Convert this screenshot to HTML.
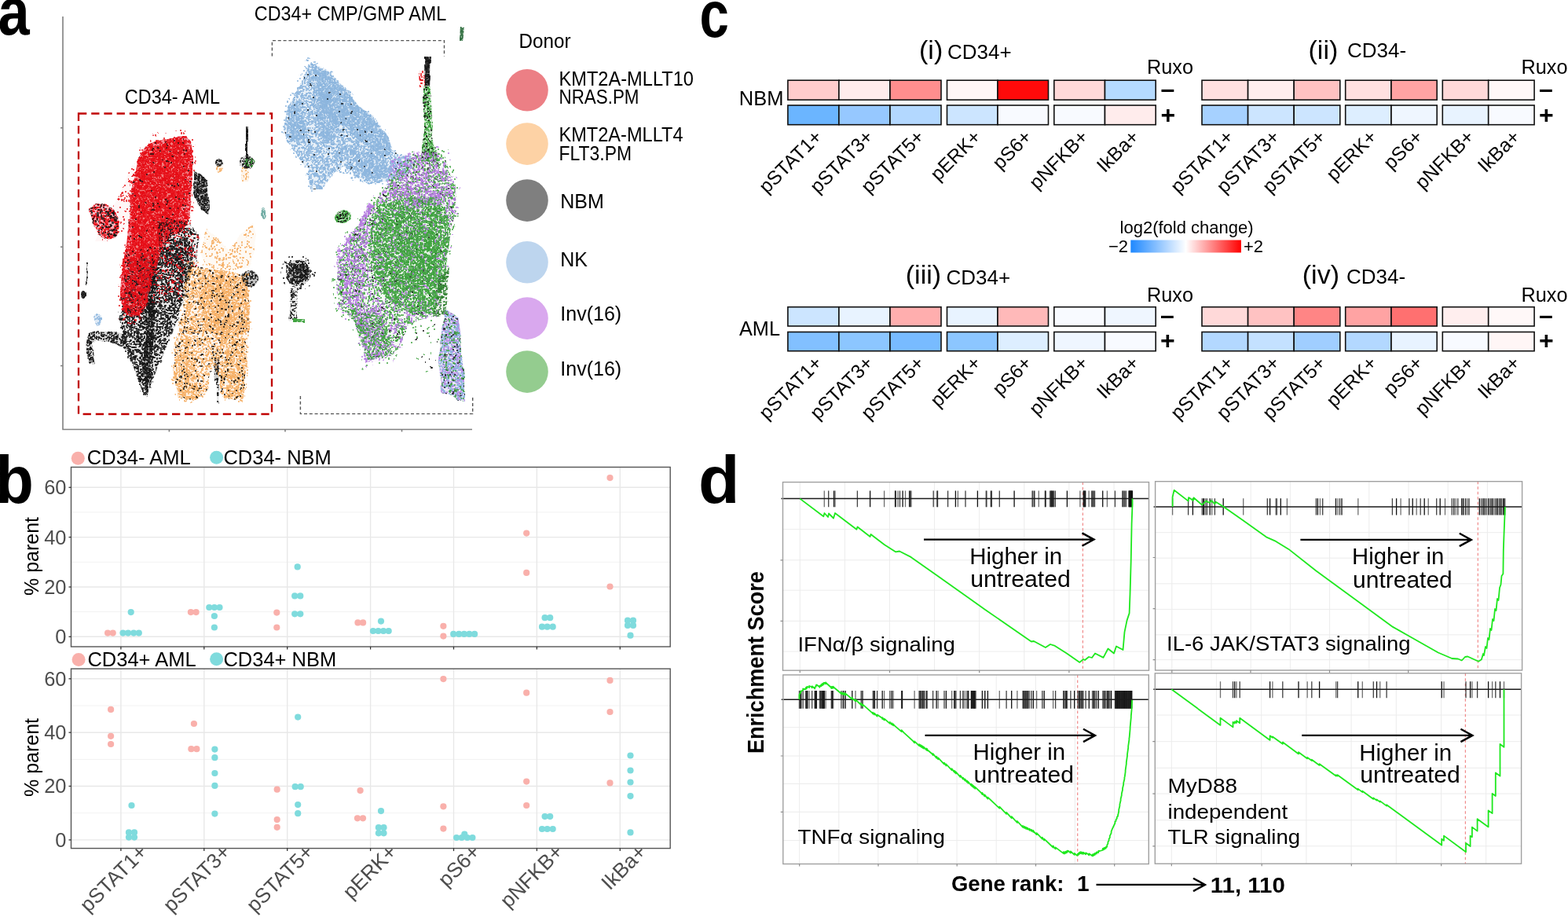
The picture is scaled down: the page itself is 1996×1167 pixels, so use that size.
<!DOCTYPE html><html><head><meta charset="utf-8"><title>Figure</title><style>html,body{margin:0;padding:0;background:#fff;width:1996px;height:1167px;overflow:hidden}svg{display:block}</style></head><body><svg width="1996" height="1167" viewBox="0 0 1996 1167" font-family='"Liberation Sans", Arial, sans-serif'>
<rect width="1996" height="1167" fill="#fff"/>
<defs>
<filter id="rough" x="60" y="20" width="560" height="520" filterUnits="userSpaceOnUse"><feTurbulence type="fractalNoise" baseFrequency="0.035" numOctaves="2" seed="4"/><feDisplacementMap in="SourceGraphic" scale="7" xChannelSelector="R" yChannelSelector="G"/></filter>
<pattern id="qm0" width="72" height="72" patternUnits="userSpaceOnUse"><path d="M33 36h0M0 18h0M53 68h0M47 40h0M16 65h0M6 58h0M71 50h0M50 51h0M50 13h0M61 51h0M7 24h0M8 26h0M56 20h0M14 43h0M6 13h0M0 19h0M68 12h0M46 3h0M9 26h0M48 19h0M32 44h0M46 60h0M15 14h0M62 59h0M61 61h0" stroke="#fff" stroke-width="2" stroke-linecap="round"/></pattern>
<mask id="m0" maskUnits="userSpaceOnUse" x="-100" y="-100" width="900" height="760"><rect x="-100" y="-100" width="900" height="760" fill="url(#qm0)"/></mask>
<pattern id="qm1" width="72" height="72" patternUnits="userSpaceOnUse"><path d="M39 10h0M18 13h0M43 33h0M61 20h0M66 2h0M26 67h0M46 18h0M69 3h0M67 38h0M11 33h0M66 46h0M21 45h0M28 68h0M69 64h0M42 28h0M24 30h0M51 29h0M25 66h0M63 45h0M3 3h0M35 60h0M33 24h0M44 57h0M44 46h0M10 28h0M13 29h0M60 25h0M43 26h0M61 0h0M61 44h0M10 15h0M49 25h0M61 22h0M55 42h0M11 50h0M59 51h0M10 20h0M21 16h0M3 19h0M59 18h0M60 44h0M19 70h0M70 16h0M2 1h0M13 67h0M17 55h0M24 27h0M3 32h0M27 37h0M64 30h0M41 33h0" stroke="#fff" stroke-width="2" stroke-linecap="round"/></pattern>
<mask id="m1" maskUnits="userSpaceOnUse" x="-100" y="-100" width="900" height="760"><rect x="-100" y="-100" width="900" height="760" fill="url(#qm1)"/></mask>
<pattern id="qm2" width="72" height="72" patternUnits="userSpaceOnUse"><path d="M69 53h0M16 7h0M45 58h0M66 53h0M64 16h0M68 19h0M67 65h0M2 56h0M23 0h0M19 22h0M18 60h0M15 71h0M7 41h0M66 67h0M71 61h0M13 71h0M7 31h0M24 35h0M5 12h0M64 57h0M71 3h0M8 56h0M41 64h0M65 25h0M35 57h0M65 68h0M61 64h0M31 66h0M33 71h0M25 57h0M17 53h0M15 50h0M56 40h0M9 30h0M54 9h0M27 38h0M15 19h0M46 18h0M32 17h0M59 28h0M12 50h0M62 20h0M28 20h0M55 65h0M51 43h0M53 25h0M45 40h0M11 46h0M2 43h0M70 58h0M56 2h0M49 42h0M66 37h0M65 8h0M14 29h0M13 10h0M33 34h0M5 23h0M34 16h0M54 33h0M51 19h0M68 65h0M63 41h0M11 35h0M7 23h0M54 9h0M34 2h0M11 33h0M10 28h0M8 33h0M15 58h0M1 43h0M70 53h0M34 16h0M5 67h0M30 14h0M20 33h0M6 23h0M25 39h0M39 67h0M26 37h0M57 64h0M22 34h0M44 2h0M32 4h0M1 2h0M64 70h0M24 65h0M60 31h0M57 13h0M55 63h0M69 50h0M64 39h0M27 29h0M43 25h0M17 51h0M44 6h0M16 1h0M9 32h0M55 20h0M7 10h0M48 64h0M36 31h0" stroke="#fff" stroke-width="2" stroke-linecap="round"/></pattern>
<mask id="m2" maskUnits="userSpaceOnUse" x="-100" y="-100" width="900" height="760"><rect x="-100" y="-100" width="900" height="760" fill="url(#qm2)"/></mask>
<pattern id="qm3" width="72" height="72" patternUnits="userSpaceOnUse"><path d="M37 5h0M58 23h0M20 34h0M57 0h0M33 46h0M42 70h0M41 31h0M4 39h0M27 45h0M23 0h0M42 48h0M10 60h0M35 64h0M25 31h0M64 0h0M11 33h0M11 18h0M51 5h0M50 2h0M38 38h0M29 10h0M67 19h0M49 41h0M63 19h0M36 18h0M5 65h0M54 64h0M17 67h0M64 2h0M29 10h0M3 5h0M17 46h0M13 48h0M57 71h0M6 2h0M68 31h0M62 33h0M0 58h0M8 64h0M68 11h0M67 8h0M60 32h0M9 33h0M30 26h0M29 58h0M63 48h0M9 61h0M36 5h0M25 9h0M18 42h0M32 38h0M17 1h0M61 7h0M62 34h0M12 27h0M62 37h0M66 36h0M59 59h0M59 15h0M70 25h0M39 10h0M60 2h0M37 58h0M9 64h0M57 34h0M49 26h0M26 9h0M11 18h0M67 33h0M46 16h0M65 35h0M14 46h0M29 63h0M62 50h0M3 20h0M0 62h0M57 51h0M38 18h0M53 44h0M48 40h0M15 42h0M0 41h0M43 50h0M15 25h0M1 37h0M32 47h0M8 50h0M49 9h0M46 54h0M35 6h0M35 13h0M6 36h0M19 31h0M34 55h0M65 40h0M24 47h0M54 3h0M51 70h0M70 26h0M10 6h0M52 57h0M17 36h0M62 6h0M70 16h0M21 60h0M53 43h0M36 38h0M32 33h0M51 30h0M38 61h0M71 50h0M15 21h0M20 9h0M26 64h0M63 70h0M28 57h0M42 57h0M54 17h0M70 24h0M31 11h0M22 43h0M71 11h0M40 30h0M47 33h0M25 2h0M52 49h0M52 67h0M26 48h0M34 43h0M7 63h0M35 46h0M16 64h0M67 27h0M11 34h0M31 49h0M51 57h0M55 39h0M2 16h0M4 54h0M60 62h0M0 9h0M50 67h0M59 57h0M31 13h0M28 19h0M19 66h0M13 58h0M10 70h0M5 0h0M16 29h0M4 38h0M16 32h0M67 55h0M14 12h0M9 38h0" stroke="#fff" stroke-width="2" stroke-linecap="round"/></pattern>
<mask id="m3" maskUnits="userSpaceOnUse" x="-100" y="-100" width="900" height="760"><rect x="-100" y="-100" width="900" height="760" fill="url(#qm3)"/></mask>
<pattern id="qm4" width="72" height="72" patternUnits="userSpaceOnUse"><path d="M67 24h0M49 33h0M28 0h0M1 68h0M38 58h0M35 40h0M31 60h0M67 30h0M70 31h0M3 52h0M39 7h0M2 24h0M63 53h0M10 32h0M29 54h0M47 29h0M63 4h0M43 53h0M46 50h0M25 0h0M37 64h0M8 26h0M63 25h0M39 24h0M29 59h0M28 33h0M37 13h0M63 23h0M28 62h0M53 7h0M18 50h0M6 27h0M3 18h0M53 6h0M7 23h0M50 57h0M40 14h0M10 21h0M42 24h0M23 67h0M59 4h0M39 48h0M47 42h0M56 21h0M13 0h0M10 35h0M10 44h0M53 15h0M71 26h0M48 45h0M39 55h0M11 6h0M60 25h0M47 69h0M57 24h0M41 46h0M60 3h0M52 31h0M51 5h0M48 4h0M59 8h0M7 32h0M24 8h0M43 46h0M34 42h0M5 33h0M40 35h0M38 0h0M8 3h0M29 13h0M60 59h0M49 32h0M55 63h0M16 63h0M23 1h0M38 19h0M30 41h0M40 58h0M46 10h0M65 25h0M50 20h0M31 52h0M8 4h0M61 70h0M69 41h0M20 54h0M13 9h0M33 10h0M26 12h0M53 63h0M57 22h0M29 17h0M53 58h0M30 68h0M15 37h0M37 35h0M34 47h0M32 33h0M25 56h0M31 23h0M31 30h0M19 36h0M24 41h0M8 50h0M32 31h0M64 67h0M29 12h0M59 4h0M13 0h0M60 29h0M57 47h0M5 37h0M29 15h0M6 24h0M24 9h0M47 65h0M22 57h0M33 0h0M13 44h0M27 4h0M47 43h0M18 5h0M26 32h0M4 26h0M1 41h0M52 47h0M23 39h0M9 26h0M4 63h0M70 61h0M8 52h0M12 50h0M70 19h0M68 11h0M20 50h0M34 52h0M36 39h0M53 6h0M39 45h0M53 53h0M2 46h0M25 50h0M51 26h0M0 55h0M20 54h0M14 11h0M51 46h0M58 20h0M16 1h0M6 70h0M18 50h0M11 47h0M64 21h0M18 44h0M36 20h0M66 21h0M8 13h0M49 62h0M25 38h0M16 5h0M61 40h0M6 49h0M11 20h0M28 51h0M25 60h0M23 27h0M5 51h0M66 20h0M49 45h0M15 19h0M31 24h0M5 71h0M4 41h0M15 49h0M58 70h0M39 53h0M39 31h0M54 49h0M47 57h0M64 56h0M22 2h0M0 62h0M59 30h0M57 58h0M22 60h0M51 13h0M8 16h0M45 55h0M46 11h0M56 64h0M65 5h0M5 16h0M10 40h0M65 10h0M6 64h0M48 17h0M3 8h0M14 24h0M16 62h0M36 21h0M28 8h0M44 32h0M20 41h0M35 58h0M18 32h0M64 61h0M26 33h0M64 30h0M40 47h0M4 25h0M23 51h0M20 35h0M41 48h0M21 33h0M14 67h0M6 46h0M57 71h0M66 13h0M32 68h0M50 47h0M33 48h0M47 18h0M46 42h0M10 56h0M29 22h0M6 37h0M66 32h0M39 40h0M0 4h0M28 19h0M37 55h0M53 65h0M46 6h0M16 62h0M29 5h0M2 6h0M0 45h0M38 13h0M66 45h0M68 28h0M52 38h0M17 26h0M46 60h0M20 17h0M1 31h0M19 57h0M12 8h0M18 34h0M51 33h0M1 7h0M71 44h0M56 66h0M63 31h0M21 0h0M5 7h0M68 3h0M51 23h0M30 20h0M7 13h0" stroke="#fff" stroke-width="2" stroke-linecap="round"/></pattern>
<mask id="m4" maskUnits="userSpaceOnUse" x="-100" y="-100" width="900" height="760"><rect x="-100" y="-100" width="900" height="760" fill="url(#qm4)"/></mask>
<pattern id="qm5" width="56" height="56" patternUnits="userSpaceOnUse"><path d="M0 39h0M35 42h0M12 9h0M26 12h0M33 38h0M41 32h0M41 41h0M26 52h0M39 11h0M32 19h0M4 19h0M40 3h0M46 50h0M30 45h0M34 0h0M24 54h0M27 47h0M29 5h0M47 41h0M28 11h0M14 6h0M16 14h0M41 2h0M7 21h0M47 44h0M54 16h0M45 3h0M17 40h0M35 43h0M27 43h0M50 33h0M16 18h0M41 13h0M5 32h0M0 10h0M16 15h0M53 47h0M12 10h0M47 20h0M12 24h0M21 38h0M15 24h0M54 40h0M44 42h0M53 34h0M30 30h0M53 33h0M44 0h0M54 1h0M27 46h0M14 36h0M19 50h0M13 25h0M39 37h0M4 36h0M10 9h0M2 1h0M7 6h0M39 10h0M22 9h0M44 1h0M1 2h0M8 44h0M41 40h0M2 44h0M4 47h0M2 4h0M54 37h0M48 23h0M12 52h0M52 34h0M42 4h0M55 48h0M45 24h0M6 15h0M13 13h0M7 2h0M2 54h0M51 48h0M40 5h0M52 48h0M40 40h0M18 30h0M6 8h0M6 50h0M48 41h0M13 18h0M20 21h0M27 16h0M1 22h0M16 18h0M3 45h0M48 23h0M20 49h0M38 32h0M30 54h0M18 39h0M47 1h0M50 26h0M1 27h0M33 49h0M6 22h0M30 45h0M3 34h0M36 13h0M45 55h0M52 5h0M36 52h0M18 10h0M27 0h0M33 12h0M18 48h0M48 3h0M0 22h0M31 6h0M31 44h0M50 52h0M11 31h0M37 22h0M53 32h0M16 36h0M10 18h0M52 13h0M44 14h0M31 10h0M7 40h0M49 5h0M31 50h0M44 35h0M50 6h0M40 20h0M22 6h0M25 25h0M47 5h0M27 41h0M1 23h0M13 19h0M16 27h0M34 32h0M10 24h0M40 14h0M29 8h0M34 38h0M48 44h0M48 38h0M41 2h0M22 37h0M20 33h0M9 55h0M53 28h0M42 35h0M47 20h0M10 29h0M28 44h0M49 16h0M37 14h0M8 21h0M29 41h0M44 15h0M32 12h0M17 19h0M48 45h0M52 53h0M39 9h0M46 9h0M15 46h0M20 38h0M33 22h0M10 15h0M20 12h0M16 46h0M6 10h0M42 6h0M12 24h0M9 9h0M50 19h0M46 19h0M27 17h0M12 6h0M40 6h0M17 13h0M24 29h0M2 0h0M25 54h0M50 27h0M44 14h0M32 40h0M18 29h0M1 9h0M16 38h0M47 25h0M0 47h0M15 54h0M27 44h0M36 37h0M47 41h0M26 54h0M14 42h0M46 41h0M49 41h0M44 37h0M54 14h0M43 11h0M41 7h0M29 27h0M20 16h0M40 44h0M6 26h0M15 50h0M25 45h0M45 40h0M10 16h0M54 27h0M30 29h0M1 39h0M54 26h0M33 43h0M42 55h0M11 41h0M20 49h0M0 24h0M53 31h0M6 2h0M16 34h0M13 10h0M45 50h0M12 33h0M22 6h0M54 36h0M29 34h0M13 45h0M30 32h0M1 40h0M50 53h0M23 33h0M21 26h0M47 29h0M13 43h0M11 25h0M32 48h0M7 46h0M39 22h0M40 3h0M16 17h0M24 25h0M3 0h0M4 26h0M26 40h0M44 43h0M22 37h0" stroke="#fff" stroke-width="2" stroke-linecap="round"/></pattern>
<mask id="m5" maskUnits="userSpaceOnUse" x="-100" y="-100" width="900" height="760"><rect x="-100" y="-100" width="900" height="760" fill="url(#qm5)"/></mask>
<pattern id="qm6" width="56" height="56" patternUnits="userSpaceOnUse"><path d="M16 6h0M14 19h0M47 25h0M33 14h0M51 25h0M29 13h0M10 8h0M49 4h0M51 51h0M40 12h0M30 41h0M35 46h0M14 52h0M9 22h0M42 40h0M53 52h0M50 52h0M26 29h0M18 48h0M35 41h0M8 49h0M53 30h0M22 50h0M54 14h0M17 45h0M24 43h0M16 27h0M43 11h0M30 0h0M51 46h0M51 17h0M22 15h0M41 19h0M20 30h0M31 27h0M39 40h0M5 42h0M23 9h0M19 54h0M24 3h0M5 52h0M36 20h0M50 8h0M33 53h0M22 40h0M37 0h0M42 0h0M13 4h0M41 18h0M16 38h0M6 37h0M9 54h0M14 11h0M49 28h0M22 50h0M9 13h0M25 50h0M34 10h0M39 44h0M38 50h0M5 42h0M35 50h0M40 53h0M19 12h0M31 44h0M13 33h0M5 47h0M53 28h0M42 7h0M35 7h0M16 26h0M14 52h0M8 30h0M31 35h0M3 30h0M29 9h0M44 31h0M15 31h0M10 34h0M38 55h0M47 0h0M10 53h0M20 29h0M44 36h0M31 42h0M18 53h0M29 23h0M27 26h0M43 4h0M11 40h0M23 40h0M41 1h0M1 39h0M2 43h0M47 21h0M51 6h0M32 30h0M31 48h0M9 2h0M13 45h0M26 40h0M8 21h0M6 55h0M42 23h0M21 30h0M49 33h0M35 49h0M13 18h0M27 21h0M27 16h0M35 3h0M52 18h0M18 22h0M52 31h0M25 21h0M32 17h0M55 32h0M22 13h0M41 31h0M50 7h0M21 12h0M20 45h0M19 8h0M37 40h0M5 50h0M2 25h0M46 35h0M25 34h0M36 3h0M25 19h0M6 0h0M2 12h0M52 30h0M38 49h0M42 3h0M50 32h0M34 39h0M24 39h0M9 40h0M43 44h0M44 38h0M43 5h0M13 2h0M42 40h0M29 40h0M48 11h0M6 42h0M11 55h0M2 26h0M49 6h0M41 0h0M23 55h0M52 8h0M50 19h0M35 45h0M16 55h0M19 11h0M26 2h0M20 1h0M27 36h0M41 37h0M3 31h0M36 33h0M2 52h0M7 49h0M51 26h0M36 44h0M25 28h0M4 0h0M43 24h0M38 37h0M42 9h0M30 49h0M26 35h0M6 5h0M41 30h0M13 9h0M40 0h0M27 0h0M0 43h0M42 7h0M54 5h0M13 55h0M7 8h0M30 1h0M17 46h0M36 15h0M28 46h0M47 11h0M3 23h0M49 47h0M45 44h0M54 9h0M46 48h0M5 18h0M40 35h0M45 31h0M29 42h0M16 3h0M45 2h0M0 3h0M0 41h0M43 52h0M39 5h0M24 19h0M19 46h0M38 10h0M55 53h0M31 38h0M3 20h0M23 36h0M46 28h0M30 43h0M10 9h0M51 7h0M23 41h0M10 40h0M51 26h0M30 24h0M49 50h0M28 17h0M50 48h0M36 21h0M18 17h0M3 39h0M41 45h0M51 52h0M38 21h0M55 38h0M46 0h0M53 9h0M38 53h0M19 37h0M27 15h0M24 24h0M43 24h0M38 49h0M14 51h0M28 18h0M44 0h0M20 16h0M17 27h0M10 37h0M52 48h0M50 2h0M18 53h0M9 51h0M55 36h0M9 17h0M54 51h0M51 35h0M43 49h0M31 22h0M34 5h0M34 35h0M31 51h0M24 12h0M50 48h0M46 14h0M19 38h0M3 43h0M25 29h0M45 13h0M16 37h0M48 0h0M50 24h0M29 34h0M5 34h0M51 22h0M49 4h0M14 25h0M37 33h0M16 53h0M33 20h0M30 32h0M37 12h0M12 13h0M12 5h0M11 51h0M44 18h0M23 36h0M36 22h0M25 49h0M33 54h0M9 15h0M2 31h0M23 55h0M6 23h0M40 29h0M50 5h0M9 20h0M38 1h0M22 17h0M33 38h0M1 6h0M2 13h0M55 55h0M36 31h0M37 36h0M13 16h0M49 17h0M27 6h0M28 49h0M37 52h0M38 8h0M16 53h0M2 21h0M12 11h0M24 5h0M1 3h0M2 35h0M23 55h0M45 29h0M31 54h0M4 55h0M38 40h0M25 7h0M45 5h0M16 20h0M36 14h0M41 5h0M42 32h0M25 11h0M28 54h0M10 23h0M15 46h0M14 11h0M2 16h0M22 3h0M35 1h0M53 3h0M16 50h0M32 45h0M47 41h0M48 30h0M3 6h0M9 20h0M48 0h0M12 43h0M47 19h0M37 37h0M28 48h0M41 6h0M30 20h0M23 16h0M24 7h0M23 30h0M24 10h0M28 15h0M51 9h0M43 0h0M29 45h0M12 51h0M2 10h0M53 14h0M4 39h0M55 23h0M47 8h0M49 28h0M6 24h0M53 1h0M40 4h0M28 21h0M20 52h0M14 30h0M7 40h0M23 9h0M21 14h0M47 3h0M11 45h0M28 35h0M9 28h0M55 9h0M17 26h0M26 15h0M9 1h0" stroke="#fff" stroke-width="2" stroke-linecap="round"/></pattern>
<mask id="m6" maskUnits="userSpaceOnUse" x="-100" y="-100" width="900" height="760"><rect x="-100" y="-100" width="900" height="760" fill="url(#qm6)"/></mask>
<pattern id="qm7" width="44" height="44" patternUnits="userSpaceOnUse"><path d="M17 36h0M18 21h0M10 16h0M31 6h0M20 29h0M30 7h0M9 32h0M3 40h0M42 13h0M35 30h0M18 7h0M16 12h0M23 27h0M16 15h0M15 6h0M24 18h0M26 10h0M3 18h0M9 40h0M1 28h0M32 21h0M32 8h0M28 0h0M33 18h0M11 23h0M27 2h0M26 13h0M17 36h0M11 8h0M11 33h0M14 11h0M12 38h0M5 5h0M38 31h0M17 11h0M13 8h0M39 42h0M40 12h0M37 19h0M12 0h0M4 33h0M26 3h0M33 22h0M21 18h0M40 31h0M5 0h0M26 30h0M8 42h0M17 15h0M11 36h0M23 2h0M10 23h0M36 38h0M0 22h0M33 28h0M33 4h0M7 22h0M15 20h0M24 36h0M3 18h0M6 31h0M28 32h0M1 33h0M34 8h0M1 15h0M5 14h0M39 11h0M10 6h0M19 16h0M35 1h0M1 6h0M12 16h0M1 38h0M40 36h0M29 33h0M15 28h0M6 22h0M6 11h0M2 17h0M7 29h0M31 37h0M32 17h0M7 7h0M7 25h0M8 34h0M37 14h0M14 9h0M42 36h0M29 25h0M10 1h0M40 24h0M26 38h0M38 33h0M2 25h0M3 23h0M21 25h0M15 21h0M27 36h0M20 25h0M35 3h0M20 33h0M9 43h0M22 15h0M27 42h0M40 0h0M23 6h0M33 11h0M4 20h0M27 12h0M32 42h0M1 14h0M8 26h0M25 29h0M40 2h0M2 2h0M41 39h0M17 43h0M39 17h0M40 34h0M2 39h0M6 16h0M7 33h0M0 27h0M15 2h0M18 7h0M19 22h0M41 10h0M7 3h0M38 32h0M17 5h0M29 37h0M34 9h0M28 7h0M32 8h0M18 26h0M36 18h0M17 15h0M5 34h0M18 29h0M39 36h0M14 41h0M24 12h0M35 23h0M29 35h0M19 39h0M30 30h0M19 1h0M15 21h0M14 12h0M32 34h0M24 37h0M25 0h0M22 10h0M15 20h0M35 20h0M31 17h0M18 13h0M18 3h0M1 10h0M35 4h0M38 22h0M28 42h0M3 33h0M24 28h0M22 6h0M33 14h0M43 9h0M26 21h0M42 22h0M8 43h0M12 39h0M39 17h0M33 6h0M30 17h0M40 40h0M8 26h0M6 0h0M26 35h0M37 7h0M31 25h0M36 9h0M26 17h0M39 38h0M7 24h0M28 29h0M18 22h0M18 22h0M25 33h0M35 38h0M24 41h0M20 0h0M31 24h0M28 19h0M11 34h0M19 9h0M27 36h0M24 37h0M14 5h0M21 20h0M38 15h0M20 13h0M27 0h0M1 3h0M16 36h0M31 19h0M34 19h0M34 39h0M27 33h0M33 43h0M27 24h0M29 22h0M2 38h0M43 22h0M28 0h0M43 4h0M33 14h0M6 26h0M23 32h0M25 41h0M35 36h0M9 12h0M26 31h0M25 28h0M39 37h0M21 33h0M5 10h0M23 20h0M23 4h0M19 32h0M11 7h0M41 18h0M21 32h0M26 40h0M10 33h0M18 32h0M13 32h0M12 26h0M11 3h0M40 36h0M38 6h0M22 36h0M40 40h0M2 26h0M0 0h0M19 35h0M0 19h0M25 6h0M37 0h0M42 1h0M12 11h0M31 35h0M36 17h0M41 34h0M32 9h0M36 12h0M26 38h0M7 9h0M10 33h0M32 6h0M1 6h0M4 10h0M33 31h0M29 39h0M27 3h0M41 0h0M43 37h0M20 9h0M15 22h0M17 10h0M2 17h0M40 6h0M37 4h0M22 12h0M28 39h0M24 1h0M3 14h0M25 37h0M2 28h0M3 39h0M15 15h0M14 2h0M10 37h0M11 20h0M0 29h0M19 26h0M38 16h0M31 4h0M15 43h0M24 43h0M37 14h0M26 19h0M25 31h0M1 15h0M5 11h0M10 22h0M24 11h0M0 18h0M25 35h0M23 7h0M21 34h0M24 21h0M25 41h0M4 7h0M27 22h0M35 15h0M24 12h0M29 18h0M22 15h0M27 2h0M17 42h0M1 21h0M9 15h0M8 5h0M12 17h0M34 8h0M35 28h0M29 15h0M10 23h0M22 13h0M25 24h0M40 37h0M13 19h0M30 32h0M13 14h0M28 43h0M8 16h0M38 28h0M37 23h0M34 15h0M25 38h0M32 13h0M8 7h0M43 32h0M5 34h0M17 24h0M1 42h0M36 9h0M19 0h0M24 5h0M11 14h0M20 12h0M42 6h0M4 35h0M23 32h0M19 12h0M4 19h0M5 14h0M18 8h0" stroke="#fff" stroke-width="2" stroke-linecap="round"/></pattern>
<mask id="m7" maskUnits="userSpaceOnUse" x="-100" y="-100" width="900" height="760"><rect x="-100" y="-100" width="900" height="760" fill="url(#qm7)"/></mask>
<pattern id="qm8" width="44" height="44" patternUnits="userSpaceOnUse"><path d="M25 18h0M22 25h0M29 40h0M40 8h0M17 11h0M1 23h0M43 42h0M22 26h0M1 42h0M29 15h0M25 22h0M40 6h0M11 18h0M7 17h0M38 14h0M43 2h0M25 2h0M38 10h0M27 12h0M19 9h0M24 2h0M35 19h0M40 40h0M11 36h0M14 36h0M31 33h0M16 27h0M42 43h0M36 22h0M0 7h0M41 18h0M2 37h0M38 3h0M15 43h0M7 2h0M20 13h0M22 5h0M26 25h0M39 14h0M17 33h0M5 22h0M27 28h0M21 32h0M40 40h0M28 32h0M3 43h0M13 27h0M43 32h0M8 31h0M12 2h0M35 16h0M11 34h0M10 40h0M15 34h0M16 15h0M3 10h0M22 22h0M26 5h0M12 40h0M19 8h0M8 43h0M31 42h0M30 15h0M15 0h0M32 28h0M8 41h0M22 19h0M8 9h0M37 36h0M15 21h0M40 7h0M35 27h0M10 43h0M42 9h0M38 29h0M25 13h0M7 18h0M0 23h0M31 13h0M2 3h0M17 19h0M12 7h0M19 28h0M7 10h0M20 28h0M29 36h0M23 18h0M10 35h0M4 2h0M0 29h0M31 5h0M21 36h0M16 6h0M41 31h0M27 31h0M12 34h0M20 0h0M22 5h0M41 18h0M40 39h0M41 16h0M41 15h0M5 8h0M1 1h0M25 9h0M18 23h0M11 40h0M33 43h0M10 6h0M19 39h0M20 24h0M11 41h0M22 20h0M14 23h0M8 35h0M23 16h0M15 3h0M2 6h0M36 40h0M25 3h0M13 31h0M27 31h0M10 19h0M38 37h0M40 5h0M9 14h0M10 8h0M28 40h0M25 5h0M2 28h0M30 12h0M13 23h0M0 2h0M39 32h0M27 9h0M18 4h0M42 3h0M32 26h0M21 4h0M28 0h0M42 11h0M10 24h0M18 0h0M28 36h0M43 22h0M36 12h0M30 5h0M34 20h0M33 29h0M27 34h0M40 9h0M25 38h0M39 5h0M3 43h0M21 38h0M42 19h0M36 36h0M26 23h0M30 42h0M41 8h0M19 21h0M33 40h0M1 12h0M14 43h0M28 5h0M9 42h0M37 23h0M35 37h0M26 23h0M33 15h0M36 28h0M25 16h0M7 14h0M11 12h0M35 7h0M14 16h0M41 6h0M12 33h0M42 16h0M31 14h0M35 29h0M14 34h0M36 7h0M32 37h0M36 5h0M26 43h0M4 28h0M8 32h0M35 32h0M7 40h0M32 6h0M29 43h0M25 34h0M10 12h0M36 30h0M5 8h0M23 39h0M3 25h0M15 3h0M23 2h0M0 38h0M13 29h0M19 7h0M8 27h0M5 39h0M12 36h0M7 22h0M10 23h0M21 43h0M0 16h0M7 15h0M23 32h0M33 22h0M31 2h0M38 22h0M6 22h0M35 20h0M38 7h0M2 43h0M15 16h0M22 12h0M28 1h0M37 28h0M7 1h0M31 7h0M4 16h0M11 9h0M35 18h0M43 42h0M24 9h0M37 16h0M34 17h0M28 0h0M1 21h0M9 31h0M32 30h0M2 2h0M4 11h0M39 41h0M43 38h0M25 30h0M10 28h0M25 14h0M39 33h0M4 23h0M21 33h0M13 19h0M8 37h0M39 2h0M13 10h0M23 29h0M21 36h0M29 24h0M22 20h0M0 21h0M37 30h0M21 14h0M1 15h0M29 38h0M2 40h0M9 42h0M9 17h0M24 17h0M4 32h0M16 22h0M36 36h0M33 37h0M8 2h0M35 6h0M12 27h0M40 36h0M40 6h0M23 18h0M15 9h0M43 4h0M19 21h0M23 32h0M40 15h0M22 35h0M25 21h0M3 21h0M42 20h0M30 32h0M23 15h0M15 22h0M9 8h0M13 0h0M42 29h0M25 28h0M25 36h0M19 10h0M37 4h0M9 19h0M19 16h0M36 35h0M42 21h0M4 12h0M37 5h0M37 11h0M19 37h0M22 29h0M22 27h0M4 31h0M20 11h0M17 16h0M34 1h0M10 40h0M17 15h0M1 13h0M3 25h0M28 12h0M38 18h0M32 41h0M6 12h0M15 3h0M8 38h0M3 5h0M4 36h0M21 8h0M0 12h0M17 34h0M41 0h0M40 20h0M1 13h0M20 20h0M1 41h0M31 25h0M39 43h0M21 11h0M3 26h0M2 5h0M40 39h0M21 31h0M38 25h0M16 29h0M0 1h0M20 36h0M41 20h0M3 26h0M39 21h0M10 5h0M1 9h0M13 9h0M33 5h0M22 23h0M27 22h0M34 43h0M37 35h0M9 42h0M38 36h0M21 14h0M39 16h0M30 2h0M41 19h0M41 35h0M29 35h0M17 23h0M33 33h0M17 8h0M16 0h0M35 30h0M6 41h0M23 9h0M40 14h0M25 5h0M1 39h0M8 7h0M3 34h0M32 13h0M35 11h0M16 38h0M23 9h0M11 10h0M33 1h0M22 15h0M28 31h0M13 40h0M22 24h0M29 13h0M20 1h0M6 42h0M0 4h0M41 25h0M43 22h0M3 14h0M36 24h0M26 24h0M42 40h0M14 1h0M16 1h0M16 27h0M15 14h0M22 13h0M20 27h0M41 17h0M19 31h0M13 36h0M10 30h0M17 8h0M19 18h0M5 21h0M0 31h0M15 10h0M20 43h0M39 38h0M28 13h0M37 3h0M13 23h0M2 28h0M11 27h0M8 19h0M43 1h0M7 9h0M0 8h0M19 9h0M32 22h0M6 10h0M29 43h0M25 5h0M26 21h0M41 42h0M25 21h0M2 37h0M15 12h0M40 0h0M2 8h0M32 38h0M14 36h0M27 6h0M1 3h0M20 4h0M7 7h0M31 8h0M33 27h0M0 11h0M14 43h0M34 9h0M40 34h0M32 7h0M33 22h0M31 4h0M22 13h0M14 4h0M17 11h0M0 16h0M17 4h0M2 12h0M32 3h0M26 35h0M23 17h0M0 20h0M2 41h0M29 34h0M18 35h0M21 26h0M17 25h0M27 20h0M34 26h0M24 9h0M24 24h0M26 9h0M40 0h0M15 38h0M32 16h0M39 24h0M15 12h0M42 7h0M5 39h0M2 3h0M25 35h0M20 43h0M41 28h0M35 42h0M20 29h0M36 0h0M30 41h0M30 32h0M21 37h0M34 24h0M15 40h0M24 22h0M4 25h0M33 17h0M39 42h0" stroke="#fff" stroke-width="2" stroke-linecap="round"/></pattern>
<mask id="m8" maskUnits="userSpaceOnUse" x="-100" y="-100" width="900" height="760"><rect x="-100" y="-100" width="900" height="760" fill="url(#qm8)"/></mask>
<pattern id="qm9" width="44" height="44" patternUnits="userSpaceOnUse"><path d="M43 20h0M4 40h0M34 42h0M14 39h0M16 16h0M30 22h0M33 37h0M30 36h0M14 9h0M4 33h0M23 33h0M13 33h0M10 23h0M15 43h0M11 9h0M42 29h0M11 40h0M41 2h0M20 24h0M23 27h0M7 26h0M9 16h0M24 6h0M23 22h0M42 33h0M33 19h0M28 42h0M5 17h0M25 18h0M28 7h0M28 40h0M30 11h0M33 9h0M0 43h0M8 23h0M31 33h0M42 15h0M39 23h0M33 21h0M24 16h0M1 35h0M12 0h0M36 16h0M3 37h0M11 19h0M34 17h0M20 16h0M15 16h0M28 5h0M33 40h0M31 5h0M12 8h0M27 18h0M39 23h0M2 28h0M24 23h0M2 18h0M26 27h0M41 38h0M16 22h0M15 24h0M37 8h0M39 12h0M37 23h0M4 42h0M13 21h0M4 5h0M28 24h0M25 33h0M26 31h0M41 1h0M6 37h0M36 29h0M29 27h0M26 30h0M11 4h0M28 25h0M31 8h0M32 0h0M42 14h0M12 25h0M34 2h0M43 18h0M35 21h0M24 29h0M7 5h0M14 4h0M36 0h0M6 31h0M5 13h0M36 29h0M3 43h0M12 21h0M30 3h0M35 26h0M37 8h0M26 3h0M40 9h0M20 21h0M12 33h0M0 11h0M34 17h0M33 16h0M5 20h0M24 16h0M42 19h0M35 25h0M32 26h0M43 3h0M19 19h0M15 24h0M27 34h0M16 19h0M12 8h0M3 13h0M34 41h0M23 29h0M42 31h0M37 9h0M23 21h0M12 29h0M35 42h0M3 20h0M0 34h0M4 26h0M36 20h0M2 17h0M14 28h0M18 12h0M13 37h0M39 29h0M25 28h0M13 13h0M3 11h0M27 40h0M7 3h0M8 4h0M38 31h0M11 0h0M35 10h0M31 14h0M43 43h0M18 13h0M34 10h0M9 13h0M33 6h0M29 6h0M12 5h0M3 26h0M14 42h0M16 28h0M43 27h0M9 3h0M8 2h0M10 28h0M18 14h0M37 20h0M35 9h0M19 16h0M20 35h0M13 9h0M42 14h0M25 2h0M20 24h0M9 41h0M18 14h0M41 34h0M5 12h0M29 9h0M11 27h0M21 43h0M25 7h0M2 22h0M7 42h0M13 41h0M33 33h0M4 18h0M31 22h0M1 31h0M5 12h0M31 17h0M19 38h0M37 34h0M5 12h0M8 30h0M17 14h0M37 19h0M2 37h0M38 6h0M0 22h0M12 9h0M42 19h0M3 11h0M21 22h0M28 30h0M15 21h0M23 11h0M7 19h0M4 35h0M29 6h0M35 7h0M10 38h0M25 29h0M2 2h0M2 32h0M37 6h0M26 41h0M8 26h0M36 22h0M4 23h0M42 10h0M23 10h0M42 5h0M21 0h0M41 30h0M19 9h0M16 6h0M6 15h0M7 9h0M31 17h0M34 34h0M7 20h0M29 15h0M10 36h0M34 2h0M32 16h0M23 12h0M18 25h0M35 13h0M8 15h0M34 32h0M15 6h0M0 6h0M3 31h0M36 13h0M14 5h0M10 9h0M16 1h0M27 25h0M39 33h0M7 18h0M36 7h0M5 42h0M37 13h0M14 15h0M38 32h0M3 15h0M4 38h0M21 6h0M2 13h0M39 11h0M19 21h0M5 29h0M37 11h0M0 20h0M26 26h0M2 5h0M15 9h0M32 43h0M10 9h0M22 8h0M13 12h0M14 43h0M21 4h0M0 30h0M2 31h0M33 21h0M4 38h0M40 4h0M12 40h0M3 23h0M26 5h0M41 22h0M37 10h0M31 43h0M31 8h0M16 19h0M3 29h0M43 37h0M10 27h0M24 40h0M32 19h0M37 34h0M41 40h0M7 4h0M16 14h0M15 12h0M37 29h0M35 15h0M31 36h0M43 3h0M25 42h0M25 40h0M43 21h0M24 25h0M5 14h0M41 43h0M21 42h0M38 27h0M19 0h0M19 31h0M38 1h0M7 30h0M26 26h0M38 19h0M29 9h0M21 34h0M13 5h0M22 25h0M29 39h0M2 18h0M21 5h0M17 11h0M28 26h0M42 34h0M15 7h0M13 43h0M40 2h0M24 11h0M24 17h0M21 9h0M23 10h0M14 22h0M39 25h0M19 31h0M20 32h0M38 12h0M10 25h0M33 0h0M0 11h0M6 15h0M29 36h0M42 16h0M22 43h0M6 35h0M32 42h0M24 8h0M16 42h0M26 4h0M32 39h0M21 28h0M17 18h0M23 19h0M42 40h0M43 24h0M33 43h0M3 41h0M31 31h0M23 1h0M3 43h0M7 35h0M24 28h0M19 32h0M9 38h0M29 2h0M20 30h0M8 0h0M17 9h0M12 37h0M36 32h0M2 25h0M11 37h0M41 17h0M40 15h0M18 34h0M1 26h0M35 26h0M41 5h0M43 40h0M24 31h0M23 17h0M20 10h0M36 31h0M3 34h0M22 8h0M12 33h0M3 10h0M19 33h0M10 43h0M19 3h0M37 19h0M24 23h0M11 17h0M19 30h0M12 39h0M20 28h0M25 6h0M43 16h0M23 25h0M20 24h0M30 17h0M7 13h0M39 28h0M32 26h0M40 10h0M20 2h0M9 17h0M34 30h0M42 35h0M42 26h0M4 17h0M25 23h0M25 33h0M18 40h0M7 16h0M28 0h0M2 34h0M36 19h0M22 38h0M23 16h0M15 4h0M35 6h0M38 43h0M26 7h0M19 10h0M41 11h0M40 7h0M25 25h0M21 25h0M25 31h0M21 22h0M11 9h0M34 33h0M26 42h0M18 8h0M13 21h0M43 4h0M26 4h0M32 0h0M36 42h0M15 36h0M27 25h0M13 36h0M17 43h0M8 9h0M14 42h0M15 32h0M7 18h0M2 41h0M24 18h0M8 41h0M24 39h0M17 4h0M38 38h0M32 17h0M38 13h0M14 19h0M6 23h0M43 36h0M5 23h0M1 33h0M4 7h0M20 13h0M0 29h0M40 8h0M28 17h0M32 3h0M28 37h0M35 38h0M2 2h0M34 29h0M7 30h0M14 18h0M40 21h0M21 33h0M36 14h0M13 35h0M13 18h0M36 34h0M1 14h0M11 1h0M32 17h0M27 23h0M4 40h0M17 5h0M37 7h0M25 24h0M32 37h0M26 14h0M42 3h0M23 34h0M21 42h0M16 4h0M41 30h0M36 8h0M27 29h0M43 39h0M29 12h0M21 39h0M12 7h0M25 10h0M18 12h0M4 33h0M1 28h0M12 12h0M16 12h0M35 18h0M1 39h0M1 4h0M22 13h0M26 0h0M41 40h0M34 16h0M35 22h0M40 10h0M36 40h0M20 22h0M19 6h0M2 11h0M22 26h0M1 29h0M6 21h0M6 9h0M23 30h0M31 5h0M21 20h0M30 8h0M6 33h0M36 16h0M32 24h0M13 22h0M16 42h0M1 12h0M17 33h0M27 24h0M10 27h0M8 8h0M0 7h0M13 37h0M34 24h0M1 0h0M5 29h0M2 13h0M36 34h0M4 20h0M21 39h0M35 29h0M31 40h0M13 0h0M15 13h0M22 24h0M6 6h0M37 8h0M12 28h0M29 36h0M37 40h0M43 28h0M4 36h0M3 30h0M10 25h0M41 43h0M15 41h0M30 30h0M38 9h0M7 31h0M38 24h0M4 15h0M14 0h0M25 36h0M14 40h0M41 2h0M15 6h0M12 0h0M2 29h0M3 25h0M15 14h0M43 2h0M35 40h0M36 26h0M16 2h0M9 29h0M1 30h0M6 6h0M11 9h0M33 10h0M39 32h0M20 6h0M32 24h0M0 4h0M1 35h0M41 5h0M32 35h0M39 39h0M38 34h0M4 3h0M42 34h0M39 18h0M29 25h0M42 0h0M35 13h0M1 11h0M32 29h0M13 7h0M41 13h0M42 27h0M7 39h0M5 34h0M33 22h0M43 6h0M5 15h0M6 5h0M23 17h0M19 19h0M18 9h0M31 38h0M36 21h0M12 0h0M5 4h0M2 7h0M43 38h0M13 33h0M24 29h0M26 39h0M36 41h0M13 5h0M1 3h0M1 42h0M43 8h0M27 3h0M11 39h0M18 28h0M16 8h0M16 19h0M22 1h0M20 24h0M6 10h0M28 10h0M41 41h0M30 39h0M20 17h0M15 0h0M26 34h0M1 21h0M14 34h0M22 21h0M0 15h0M21 5h0M34 10h0M6 2h0M20 27h0M40 21h0M23 4h0M34 7h0M29 10h0M13 33h0M3 41h0M42 34h0M15 26h0M33 40h0M5 41h0M13 13h0M18 0h0M16 27h0M7 11h0M39 28h0M39 43h0M10 18h0M25 15h0M21 16h0M1 5h0M13 41h0M16 39h0M41 41h0M37 9h0M41 4h0M38 4h0M25 19h0M4 4h0M4 34h0M0 4h0M23 4h0M9 35h0M7 31h0M41 32h0M17 28h0M11 6h0M16 19h0" stroke="#fff" stroke-width="2" stroke-linecap="round"/></pattern>
<mask id="m9" maskUnits="userSpaceOnUse" x="-100" y="-100" width="900" height="760"><rect x="-100" y="-100" width="900" height="760" fill="url(#qm9)"/></mask>
<pattern id="qm10" width="44" height="44" patternUnits="userSpaceOnUse"><path d="M25 26h0M11 28h0M6 29h0M21 20h0M13 1h0M24 14h0M6 13h0M22 42h0M21 17h0M39 0h0M12 4h0M5 10h0M42 42h0M37 19h0M42 16h0M11 2h0M9 30h0M6 3h0M24 16h0M41 5h0M36 37h0M14 3h0M4 18h0M0 17h0M8 22h0M23 34h0M11 8h0M23 16h0M23 23h0M10 33h0M42 7h0M15 10h0M18 24h0M1 14h0M41 12h0M14 24h0M23 15h0M41 30h0M16 0h0M3 6h0M42 24h0M23 15h0M18 1h0M30 28h0M31 7h0M7 29h0M35 31h0M5 25h0M7 31h0M30 11h0M14 27h0M28 3h0M7 12h0M4 17h0M23 28h0M30 15h0M21 35h0M3 4h0M32 14h0M30 13h0M36 39h0M24 7h0M3 27h0M33 3h0M15 33h0M10 32h0M20 13h0M6 5h0M30 16h0M29 29h0M8 4h0M28 40h0M20 6h0M13 17h0M42 23h0M4 7h0M30 30h0M16 11h0M32 0h0M40 41h0M32 1h0M41 30h0M43 2h0M34 41h0M14 31h0M42 38h0M8 41h0M23 9h0M24 20h0M2 23h0M42 41h0M11 14h0M1 38h0M29 5h0M28 13h0M2 18h0M28 8h0M12 19h0M20 37h0M12 4h0M25 1h0M43 10h0M0 23h0M30 14h0M4 30h0M23 32h0M31 43h0M13 39h0M13 12h0M30 12h0M19 29h0M17 14h0M20 2h0M26 11h0M21 26h0M42 1h0M36 23h0M10 15h0M0 9h0M38 16h0M38 29h0M30 35h0M35 24h0M8 16h0M15 35h0M7 17h0M26 9h0M8 33h0M8 37h0M20 3h0M10 14h0M27 10h0M5 37h0M28 26h0M16 36h0M42 14h0M9 17h0M26 6h0M3 27h0M6 1h0M18 4h0M18 11h0M8 26h0M4 33h0M24 19h0M42 41h0M32 37h0M7 28h0M15 31h0M42 33h0M37 43h0M23 33h0M35 12h0M27 4h0M37 16h0M36 24h0M11 16h0M41 15h0M26 23h0M33 16h0M43 4h0M3 39h0M43 30h0M13 43h0M20 0h0M28 30h0M21 43h0M41 11h0M29 20h0M14 27h0M5 13h0M34 26h0M25 8h0M14 23h0M23 24h0M42 31h0M23 8h0M14 40h0M13 17h0M7 2h0M32 8h0M25 39h0M26 41h0M4 30h0M37 29h0M21 36h0M34 22h0M22 27h0M20 11h0M30 1h0M43 43h0M10 25h0M23 7h0M40 18h0M35 41h0M13 40h0M15 37h0M12 23h0M19 41h0M16 10h0M4 38h0M29 42h0M37 2h0M12 0h0M38 34h0M26 35h0M17 1h0M4 0h0M11 5h0M15 0h0M11 14h0M11 16h0M15 1h0M1 7h0M5 5h0M12 9h0M30 21h0M4 33h0M22 20h0M18 26h0M30 16h0M21 3h0M5 16h0M10 16h0M5 4h0M39 3h0M16 8h0M21 21h0M32 31h0M9 12h0M38 35h0M3 9h0M27 24h0M18 1h0M14 19h0M4 30h0M6 4h0M37 9h0M12 28h0M29 14h0M39 5h0M42 30h0M36 27h0M8 0h0M12 37h0M13 6h0M40 29h0M15 16h0M32 27h0M33 34h0M21 3h0M1 14h0M1 14h0M32 18h0M13 40h0M29 39h0M12 11h0M13 19h0M42 16h0M8 10h0M3 14h0M29 21h0M43 19h0M25 20h0M33 19h0M3 38h0M20 5h0M18 3h0M20 32h0M15 9h0M11 40h0M15 29h0M1 12h0M20 7h0M32 33h0M23 43h0M30 33h0M19 4h0M6 42h0M4 39h0M24 27h0M30 4h0M16 42h0M32 14h0M28 20h0M30 26h0M23 34h0M28 20h0M39 3h0M6 29h0M5 40h0M17 8h0M2 35h0M8 4h0M29 43h0M39 2h0M19 42h0M4 42h0M21 27h0M33 5h0M9 25h0M6 3h0M2 18h0M42 8h0M33 6h0M4 20h0M10 34h0M38 26h0M10 15h0M11 24h0M27 21h0M23 7h0M15 29h0M35 7h0M5 16h0M24 30h0M14 11h0M38 18h0M29 25h0M12 8h0M12 31h0M6 32h0M21 15h0M1 16h0M32 30h0M9 39h0M20 20h0M11 21h0M43 12h0M42 26h0M3 0h0M14 36h0M22 0h0M16 38h0M2 2h0M20 14h0M20 17h0M23 19h0M23 39h0M22 25h0M24 18h0M7 14h0M0 43h0M26 40h0M36 15h0M41 3h0M10 9h0M19 16h0M32 41h0M20 24h0M27 19h0M8 15h0M34 21h0M42 3h0M22 11h0M20 8h0M43 34h0M41 3h0M35 29h0M21 30h0M29 13h0M21 23h0M15 4h0M6 7h0M20 1h0M1 14h0M23 4h0M39 4h0M31 3h0M12 29h0M40 25h0M19 30h0M24 19h0M40 40h0M36 30h0M20 22h0M19 22h0M36 6h0M38 37h0M33 4h0M30 28h0M26 0h0M42 14h0M13 13h0M23 34h0M23 42h0M7 41h0M36 2h0M29 37h0M36 27h0M1 8h0M27 5h0M11 33h0M18 32h0M22 6h0M14 38h0M3 14h0M23 27h0M10 24h0M40 4h0M26 12h0M20 19h0M21 32h0M11 31h0M34 32h0M0 42h0M9 38h0M24 35h0M10 11h0M1 41h0M35 7h0M36 23h0M3 3h0M13 32h0M1 32h0M13 32h0M29 9h0M35 13h0M9 9h0M40 28h0M1 27h0M8 38h0M16 38h0M17 14h0M26 13h0M32 40h0M29 3h0M5 0h0M21 10h0M15 34h0M16 14h0M33 11h0M14 38h0M11 12h0M37 7h0M29 38h0M13 17h0M27 32h0M3 31h0M0 28h0M5 4h0M35 43h0M26 9h0M20 29h0M10 40h0M13 34h0M21 26h0M15 12h0M14 10h0M26 22h0M39 27h0M19 19h0M10 40h0M13 28h0M5 9h0M12 37h0M20 7h0M32 18h0M11 26h0M30 28h0M37 31h0M30 17h0M30 33h0M12 30h0M37 32h0M9 32h0M10 14h0M4 22h0M24 4h0M25 6h0M22 27h0M21 22h0M25 41h0M9 29h0M36 35h0M0 2h0M30 22h0M32 40h0M43 25h0M27 39h0M19 10h0M35 41h0M42 0h0M43 9h0M40 23h0M43 25h0M20 37h0M36 43h0M14 21h0M10 35h0M35 25h0M41 11h0M18 7h0M8 1h0M39 20h0M30 28h0M31 17h0M23 33h0M1 22h0M35 34h0M20 40h0M30 7h0M21 16h0M24 39h0M38 36h0M16 1h0M23 24h0M4 23h0M40 34h0M0 17h0M21 18h0M31 10h0M24 1h0M4 12h0M13 3h0M8 9h0M19 14h0M14 3h0M27 16h0M7 6h0M9 35h0M35 5h0M9 27h0M12 2h0M31 24h0M27 5h0M40 11h0M38 8h0M19 2h0M5 3h0M10 7h0M2 1h0M20 40h0M10 7h0M29 10h0M6 11h0M12 38h0M22 43h0M12 23h0M7 27h0M20 25h0M26 16h0M28 14h0M30 1h0M43 11h0M10 11h0M9 22h0M40 41h0M3 28h0M33 39h0M43 2h0M28 35h0M36 0h0M28 28h0M1 38h0M40 21h0M42 25h0M32 9h0M3 35h0M33 9h0M31 11h0M24 10h0M41 0h0M32 32h0M0 23h0M26 42h0M12 36h0M24 42h0M26 21h0M30 37h0M39 10h0M20 24h0M12 17h0M13 42h0M39 0h0M37 20h0M20 41h0M35 16h0M39 21h0M10 36h0M34 31h0M17 5h0M31 2h0M9 27h0M5 36h0M26 18h0M37 32h0M27 0h0M5 37h0M8 6h0M24 17h0M7 38h0M27 28h0M16 5h0M28 41h0M23 6h0M2 31h0M19 13h0M4 41h0M16 17h0M23 13h0M32 32h0M33 27h0M36 41h0M17 29h0M41 20h0M25 43h0M30 7h0M2 9h0M43 18h0M3 38h0M34 8h0M22 40h0M24 15h0M16 32h0M2 28h0M30 1h0M5 5h0M2 13h0M29 38h0M30 5h0M18 21h0M38 11h0M8 41h0M7 41h0M11 32h0M16 21h0M10 10h0M14 30h0M14 16h0M16 3h0M14 10h0M39 19h0M4 40h0M24 34h0M39 28h0M13 6h0M26 30h0M20 43h0M3 24h0M14 41h0M29 30h0M33 12h0M16 10h0M33 43h0M7 35h0M20 25h0M10 8h0M30 30h0M31 17h0M36 23h0M6 35h0M31 37h0M21 10h0M21 6h0M23 24h0M7 8h0M31 37h0M18 21h0M24 36h0M35 11h0M20 1h0M20 13h0M29 7h0M18 29h0M40 23h0M36 43h0M23 30h0M40 12h0M34 42h0M42 11h0M23 12h0M38 12h0M19 18h0M15 37h0M4 26h0M0 13h0M35 4h0M13 32h0M32 42h0M7 15h0M42 7h0M43 18h0M6 12h0M43 37h0M42 0h0M17 3h0M27 5h0M17 20h0M36 0h0M32 26h0M22 37h0M34 11h0M0 36h0M12 11h0M14 6h0M13 7h0M17 37h0M32 20h0M43 24h0M25 1h0M4 38h0M27 7h0M17 32h0M9 27h0M23 42h0M1 1h0M3 27h0M39 34h0M41 24h0M10 23h0M23 35h0M8 22h0M23 16h0M34 9h0M10 10h0M9 9h0M7 37h0M7 10h0M19 32h0M36 36h0M6 35h0M31 26h0M29 34h0M0 3h0M15 27h0M8 15h0M0 15h0M22 15h0M5 30h0M37 24h0M27 21h0M30 2h0M14 42h0M3 28h0M32 15h0M2 38h0M11 12h0M4 16h0M5 21h0M5 21h0M41 5h0M27 19h0M4 32h0M28 15h0M43 9h0M11 19h0M27 20h0M6 32h0M27 10h0M37 2h0M31 7h0M41 10h0M40 3h0M18 32h0M2 21h0M3 6h0M33 12h0M32 25h0M10 14h0M42 13h0M27 16h0M42 29h0M5 15h0M29 0h0M14 42h0M25 6h0M12 26h0M5 34h0M43 18h0M23 21h0M15 17h0M42 42h0M21 14h0M2 25h0M26 27h0M4 9h0M5 4h0M3 34h0M12 16h0M40 6h0M24 32h0M43 31h0M16 12h0M6 42h0M31 36h0M28 18h0M4 37h0M30 8h0M9 4h0M30 27h0M8 42h0M43 1h0M11 37h0M2 4h0M7 20h0M15 3h0M14 37h0M17 22h0M10 23h0M26 17h0M10 28h0M28 11h0M0 8h0M5 34h0M27 15h0M40 9h0M42 16h0M7 7h0M24 5h0M42 14h0M0 9h0M2 22h0M5 19h0M37 20h0M35 37h0M28 41h0M36 34h0M12 19h0M33 13h0M30 21h0M8 23h0M22 32h0M35 37h0M14 39h0M17 42h0M32 8h0M32 1h0M26 27h0M42 38h0M11 2h0M34 18h0M17 7h0M40 28h0M23 33h0M30 15h0M32 34h0M24 34h0M18 18h0M25 2h0M16 30h0M20 43h0M13 28h0M22 19h0M29 23h0M5 23h0M41 13h0M14 27h0M41 43h0M16 40h0M23 1h0M17 35h0M3 21h0M23 26h0M2 27h0M38 33h0M42 19h0M14 21h0M21 30h0M6 11h0M31 6h0M23 12h0M17 31h0M2 8h0M21 26h0M28 18h0M26 9h0M20 9h0M41 11h0M10 22h0M17 3h0M43 15h0M21 2h0M11 3h0M27 27h0M12 9h0M23 32h0M7 7h0M17 28h0M32 25h0M38 16h0M1 25h0M24 11h0M24 0h0M23 7h0M20 21h0M8 43h0M2 39h0M12 13h0M1 37h0M43 36h0M39 14h0M18 6h0M12 15h0M14 30h0M37 36h0M20 7h0M2 36h0M20 33h0M41 38h0M5 32h0M29 7h0M15 13h0M28 19h0M26 23h0M0 14h0M7 21h0M25 15h0M41 27h0M15 21h0M37 15h0M24 40h0M2 33h0M35 19h0M17 30h0M30 29h0M0 3h0M42 24h0M29 14h0M38 39h0M11 38h0M30 35h0M24 10h0M6 16h0M28 5h0M19 29h0M13 0h0M4 5h0M5 11h0M23 0h0M27 26h0M32 29h0M18 22h0M33 23h0M10 6h0M32 33h0M31 7h0M23 18h0M34 13h0M14 24h0M22 21h0M38 39h0M35 36h0M17 18h0M5 39h0M23 7h0M23 42h0M34 41h0M20 8h0M21 43h0M7 21h0M10 26h0M1 23h0M14 25h0M0 10h0M42 12h0M42 34h0M28 23h0M25 16h0M14 11h0M29 10h0M23 3h0M1 24h0M14 20h0M43 25h0M43 2h0M31 34h0M30 12h0" stroke="#fff" stroke-width="2" stroke-linecap="round"/></pattern>
<mask id="m10" maskUnits="userSpaceOnUse" x="-100" y="-100" width="900" height="760"><rect x="-100" y="-100" width="900" height="760" fill="url(#qm10)"/></mask>
</defs><g filter="url(#rough)">
<polygon transform="translate(20 9)" points="101,297 108,281 120,261 135,236 148,203 154,203 152,221 146,251 140,281 130,291 115,299" fill="#e60d16" fill-opacity="0.03"/>
<polygon transform="translate(20 9)" points="101,297 108,281 120,261 135,236 148,203 154,203 152,221 146,251 140,281 130,291 115,299" fill="#e60d16" mask="url(#m4)"/>
<polygon transform="translate(25 3)" points="90,263 97,255 110,257 120,265 125,282 123,297 115,302 103,297 93,282" fill="#e60d16" fill-opacity="0.3"/>
<polygon transform="translate(25 3)" points="90,263 97,255 110,257 120,265 125,282 123,297 115,302 103,297 93,282" fill="#e60d16" mask="url(#m8)"/>
<polygon transform="translate(4 34)" points="111,232 118,224 131,226 141,234 146,251 144,266 136,271 124,266 114,251" fill="#151515" mask="url(#m6)"/>
<polygon transform="translate(6 23)" points="257,267 269,277 284,295 299,277 316,262 320,277 312,317 294,322 256,315 250,297" fill="#f5ad62" fill-opacity="0.08"/>
<polygon transform="translate(6 23)" points="257,267 269,277 284,295 299,277 316,262 320,277 312,317 294,322 256,315 250,297" fill="#f5ad62" mask="url(#m5)"/>
<polygon transform="translate(37 3)" points="203,337 228,337 253,342 279,351 281,408 277,457 274,487 271,505 261,508 248,503 243,495 241,477 236,465 231,472 228,489 221,500 208,505 189,503 183,467 186,433 196,392 198,357" fill="#f5ad62" fill-opacity="0.12"/>
<polygon transform="translate(37 3)" points="203,337 228,337 253,342 279,351 281,408 277,457 274,487 271,505 261,508 248,503 243,495 241,477 236,465 231,472 228,489 221,500 208,505 189,503 183,467 186,433 196,392 198,357" fill="#f5ad62" mask="url(#m7)"/>
<polygon transform="translate(32 13)" points="223,332 284,343 286,407 258,419 230,407 220,367" fill="#f5ad62" fill-opacity="0.15"/>
<polygon transform="translate(32 13)" points="223,332 284,343 286,407 258,419 230,407 220,367" fill="#f5ad62" mask="url(#m7)"/>
<polygon transform="translate(2 5)" points="220,457 238,435 248,465 250,500 224,503" fill="#f5ad62" fill-opacity="0.1"/>
<polygon transform="translate(2 5)" points="220,457 238,435 248,465 250,500 224,503" fill="#f5ad62" mask="url(#m6)"/>
<polygon transform="translate(27 26)" points="260,404 286,404 283,482 263,482" fill="#f5ad62" fill-opacity="0.1"/>
<polygon transform="translate(27 26)" points="260,404 286,404 283,482 263,482" fill="#f5ad62" mask="url(#m6)"/>
<polygon transform="translate(4 15)" points="236,325 261,325 286,330 312,339 314,396 310,445 307,475 304,493 294,496 281,491 276,483 274,465 269,453 264,460 261,477 254,488 241,493 222,491 216,455 219,421 229,380 231,345" fill="#151515" mask="url(#m3)"/>
<polygon transform="translate(5 35)" points="267,420 274,420 273,449 268,449" fill="#151515" fill-opacity="0.2"/>
<polygon transform="translate(5 35)" points="267,420 274,420 273,449 268,449" fill="#151515" mask="url(#m8)"/>
<polygon transform="translate(27 3)" points="248,481 250.5,481 250.5,510 248,510" fill="#151515" fill-opacity="0.1"/>
<polygon transform="translate(27 3)" points="248,481 250.5,481 250.5,510 248,510" fill="#151515" mask="url(#m8)"/>
<polygon transform="translate(36 7)" points="293,347 292.5,350.1 290.9,352.9 288.5,355.1 285.4,356.5 282,357 278.6,356.5 275.5,355.1 273.1,352.9 271.5,350.1 271,347 271.5,343.9 273.1,341.1 275.5,338.9 278.6,337.5 282,337 285.4,337.5 288.5,338.9 290.9,341.1 292.5,343.9" fill="#151515" fill-opacity="0.25"/>
<polygon transform="translate(36 7)" points="293,347 292.5,350.1 290.9,352.9 288.5,355.1 285.4,356.5 282,357 278.6,356.5 275.5,355.1 273.1,352.9 271.5,350.1 271,347 271.5,343.9 273.1,341.1 275.5,338.9 278.6,337.5 282,337 285.4,337.5 288.5,338.9 290.9,341.1 292.5,343.9" fill="#151515" mask="url(#m8)"/>
<polygon transform="translate(14 37)" points="151,293 186,281 226,263 232,293 222,333 212,368 198,403 184,433 177,456 172,469 167,463 159,439 148,407 138,371 144,343" fill="#151515" fill-opacity="0.1"/>
<polygon transform="translate(14 37)" points="151,293 186,281 226,263 232,293 222,333 212,368 198,403 184,433 177,456 172,469 167,463 159,439 148,407 138,371 144,343" fill="#151515" mask="url(#m8)"/>
<polygon transform="translate(3 36)" points="187,294 197,294 195,344 193,394 187,444 184,468 179,444 181,394 185,344" fill="#151515" fill-opacity="0.3"/>
<polygon transform="translate(3 36)" points="187,294 197,294 195,344 193,394 187,444 184,468 179,444 181,394 185,344" fill="#151515" mask="url(#m9)"/>
<polygon transform="translate(37 25)" points="128,310 163,305 201,305 193,355 143,365" fill="#e60d16" mask="url(#m4)"/>
<polygon transform="translate(3 14)" points="180,176 187,167 197,163 211,162 225,159 235,159 241,165 243,181 243,208 241,236 238,264 231,278 215,286 203,304 197,321 189,346 184,376 175,389 162,389 151,382 150,356 153,325 157,299 160,266 163,242 167,217 173,191" fill="#e60d16" fill-opacity="0.45"/>
<polygon transform="translate(3 14)" points="180,176 187,167 197,163 211,162 225,159 235,159 241,165 243,181 243,208 241,236 238,264 231,278 215,286 203,304 197,321 189,346 184,376 175,389 162,389 151,382 150,356 153,325 157,299 160,266 163,242 167,217 173,191" fill="#e60d16" mask="url(#m9)"/>
<polygon transform="translate(2 35)" points="188,150 233,141 238,165 236,225 213,255 193,295 166,295 166,225 173,175" fill="#e60d16" fill-opacity="0.2"/>
<polygon transform="translate(2 35)" points="188,150 233,141 238,165 236,225 213,255 193,295 166,295 166,225 173,175" fill="#e60d16" mask="url(#m7)"/>
<polygon transform="translate(8 18)" points="175,172 182,163 192,159 206,158 220,155 230,155 236,161 238,177 238,204 236,232 233,260 226,274 210,282 198,300 192,317 184,342 179,372 170,385 157,385 146,378 145,352 148,321 152,295 155,262 158,238 162,213 168,187" fill="#151515" mask="url(#m1)"/>
<polygon transform="translate(26 9)" points="174,271 214,271 228,291 224,331 212,336 179,326" fill="#151515" fill-opacity="0.08"/>
<polygon transform="translate(26 9)" points="174,271 214,271 228,291 224,331 212,336 179,326" fill="#151515" mask="url(#m6)"/>
<polygon transform="translate(34 7)" points="166,273 206,273 220,293 216,333 204,338 171,328" fill="#e60d16" mask="url(#m4)"/>
<polygon transform="translate(36 19)" points="212,199 220,203 228,213 231,243 228,256 218,249 212,226" fill="#151515" fill-opacity="0.35"/>
<polygon transform="translate(36 19)" points="212,199 220,203 228,213 231,243 228,256 218,249 212,226" fill="#151515" mask="url(#m9)"/>
<polygon transform="translate(35 11)" points="78,413 90,409 105,410 122,415 130,429 125,433 105,424 90,421 82,425 84,444 86,453 80,453 74,439 75,424" fill="#151515" fill-opacity="0.15"/>
<polygon transform="translate(35 11)" points="78,413 90,409 105,410 122,415 130,429 125,433 105,424 90,421 82,425 84,444 86,453 80,453 74,439 75,424" fill="#151515" mask="url(#m8)"/>
<polygon transform="translate(6 37)" points="123,369 122.8,371.5 122,373.7 120.9,375.5 119.5,376.6 118,377 116.5,376.6 115.1,375.5 114,373.7 113.2,371.5 113,369 113.2,366.5 114,364.3 115.1,362.5 116.5,361.4 118,361 119.5,361.4 120.9,362.5 122,364.3 122.8,366.5" fill="#8db6de" fill-opacity="0.3"/>
<polygon transform="translate(6 37)" points="123,369 122.8,371.5 122,373.7 120.9,375.5 119.5,376.6 118,377 116.5,376.6 115.1,375.5 114,373.7 113.2,371.5 113,369 113.2,366.5 114,364.3 115.1,362.5 116.5,361.4 118,361 119.5,361.4 120.9,362.5 122,364.3 122.8,366.5" fill="#8db6de" mask="url(#m9)"/>
<polygon transform="translate(36 12)" points="74,363 73.9,364.5 73.4,365.9 72.8,367 71.9,367.8 71,368 70.1,367.8 69.2,367 68.6,365.9 68.1,364.5 68,363 68.1,361.5 68.6,360.1 69.2,359 70.1,358.2 71,358 71.9,358.2 72.8,359 73.4,360.1 73.9,361.5" fill="#151515" fill-opacity="0.5"/>
<polygon transform="translate(36 12)" points="74,363 73.9,364.5 73.4,365.9 72.8,367 71.9,367.8 71,368 70.1,367.8 69.2,367 68.6,365.9 68.1,364.5 68,363 68.1,361.5 68.6,360.1 69.2,359 70.1,358.2 71,358 71.9,358.2 72.8,359 73.4,360.1 73.9,361.5" fill="#151515" mask="url(#m10)"/>
<polygon transform="translate(23 6)" points="86,329 88,329 88,356 86,356" fill="#151515" fill-opacity="0.3"/>
<polygon transform="translate(23 6)" points="86,329 88,329 88,356 86,356" fill="#151515" mask="url(#m8)"/>
<polygon transform="translate(35 4)" points="278,156 281,156 281,211 278,211" fill="#151515" fill-opacity="0.6"/>
<polygon transform="translate(35 4)" points="278,156 281,156 281,211 278,211" fill="#151515" mask="url(#m10)"/>
<polygon transform="translate(36 3)" points="289,204 288.5,206.8 286.9,209.3 284.5,211.3 281.4,212.6 278,213 274.6,212.6 271.5,211.3 269.1,209.3 267.5,206.8 267,204 267.5,201.2 269.1,198.7 271.5,196.7 274.6,195.4 278,195 281.4,195.4 284.5,196.7 286.9,198.7 288.5,201.2" fill="#151515" fill-opacity="0.15"/>
<polygon transform="translate(36 3)" points="289,204 288.5,206.8 286.9,209.3 284.5,211.3 281.4,212.6 278,213 274.6,212.6 271.5,211.3 269.1,209.3 267.5,206.8 267,204 267.5,201.2 269.1,198.7 271.5,196.7 274.6,195.4 278,195 281.4,195.4 284.5,196.7 286.9,198.7 288.5,201.2" fill="#151515" mask="url(#m8)"/>
<polygon transform="translate(39 13)" points="287,194 286.6,195.9 285.5,197.5 283.7,198.9 281.5,199.7 279,200 276.5,199.7 274.3,198.9 272.5,197.5 271.4,195.9 271,194 271.4,192.1 272.5,190.5 274.3,189.1 276.5,188.3 279,188 281.5,188.3 283.7,189.1 285.5,190.5 286.6,192.1" fill="#3fa33f" fill-opacity="0.1"/>
<polygon transform="translate(39 13)" points="287,194 286.6,195.9 285.5,197.5 283.7,198.9 281.5,199.7 279,200 276.5,199.7 274.3,198.9 272.5,197.5 271.4,195.9 271,194 271.4,192.1 272.5,190.5 274.3,189.1 276.5,188.3 279,188 281.5,188.3 283.7,189.1 285.5,190.5 286.6,192.1" fill="#3fa33f" mask="url(#m6)"/>
<polygon transform="translate(31 34)" points="275,181 287,181 285,197 276,197" fill="#f5ad62" fill-opacity="0.15"/>
<polygon transform="translate(31 34)" points="275,181 287,181 285,197 276,197" fill="#f5ad62" mask="url(#m6)"/>
<polygon transform="translate(27 20)" points="256,188 255.8,189.9 255.2,191.5 254.4,192.9 253.2,193.7 252,194 250.8,193.7 249.6,192.9 248.8,191.5 248.2,189.9 248,188 248.2,186.1 248.8,184.5 249.6,183.1 250.8,182.3 252,182 253.2,182.3 254.4,183.1 255.2,184.5 255.8,186.1" fill="#151515" fill-opacity="0.3"/>
<polygon transform="translate(27 20)" points="256,188 255.8,189.9 255.2,191.5 254.4,192.9 253.2,193.7 252,194 250.8,193.7 249.6,192.9 248.8,191.5 248.2,189.9 248,188 248.2,186.1 248.8,184.5 249.6,183.1 250.8,182.3 252,182 253.2,182.3 254.4,183.1 255.2,184.5 255.8,186.1" fill="#151515" mask="url(#m9)"/>
<polygon transform="translate(29 37)" points="254,179 253.8,180.2 253.2,181.4 252.4,182.2 251.2,182.8 250,183 248.8,182.8 247.6,182.2 246.8,181.4 246.2,180.2 246,179 246.2,177.8 246.8,176.6 247.6,175.8 248.8,175.2 250,175 251.2,175.2 252.4,175.8 253.2,176.6 253.8,177.8" fill="#f5ad62" fill-opacity="0.2"/>
<polygon transform="translate(29 37)" points="254,179 253.8,180.2 253.2,181.4 252.4,182.2 251.2,182.8 250,183 248.8,182.8 247.6,182.2 246.8,181.4 246.2,180.2 246,179 246.2,177.8 246.8,176.6 247.6,175.8 248.8,175.2 250,175 251.2,175.2 252.4,175.8 253.2,176.6 253.8,177.8" fill="#f5ad62" mask="url(#m7)"/>
<polygon transform="translate(29 23)" points="310,249 309.9,251.5 309.4,253.7 308.8,255.5 307.9,256.6 307,257 306.1,256.6 305.2,255.5 304.6,253.7 304.1,251.5 304,249 304.1,246.5 304.6,244.3 305.2,242.5 306.1,241.4 307,241 307.9,241.4 308.8,242.5 309.4,244.3 309.9,246.5" fill="#6aa8a0" fill-opacity="0.3"/>
<polygon transform="translate(29 23)" points="310,249 309.9,251.5 309.4,253.7 308.8,255.5 307.9,256.6 307,257 306.1,256.6 305.2,255.5 304.6,253.7 304.1,251.5 304,249 304.1,246.5 304.6,244.3 305.2,242.5 306.1,241.4 307,241 307.9,241.4 308.8,242.5 309.4,244.3 309.9,246.5" fill="#6aa8a0" mask="url(#m9)"/>
<polygon transform="translate(19 15)" points="162.8,168.3 170.3,158.6 181.1,154.3 196.3,153.2 211.4,150 222.2,150 228.7,156.4 230.8,173.7 230.8,202.9 228.7,233.1 225.4,263.4 217.9,278.5 200.6,287.1 187.6,306.6 181.1,324.9 172.5,351.9 167.1,384.3 157.4,398.4 143.3,398.4 131.5,390.8 130.4,362.7 133.6,329.2 137.9,301.2 141.2,265.5 144.4,239.6 148.7,212.6 155.2,184.5" fill="#e60d16" mask="url(#m3)"/>
<polygon transform="translate(11 15)" points="226.9,317.4 253.6,317.4 280.4,322.8 308.2,332.4 310.3,393.4 306.1,445.8 302.8,477.9 299.6,497.2 288.9,500.4 275,495.1 269.7,486.5 267.5,467.2 262.2,454.4 256.8,461.9 253.6,480.1 246.1,491.9 232.2,497.2 211.9,495.1 205.5,456.5 208.7,420.2 219.4,376.3 221.5,338.8" fill="#f5ad62" mask="url(#m3)"/>
<polygon transform="translate(5 36)" points="157.6,287.5 195.4,274.5 238.6,255.1 245.1,287.5 234.3,330.7 223.5,368.5 208.4,406.3 193.2,438.7 185.7,463.5 180.3,477.6 174.9,471.1 166.2,445.2 154.4,410.6 143.6,371.7 150,341.5" fill="#151515" mask="url(#m2)"/>
<polygon transform="translate(19 33)" points="377,46 391,53 406,65 418,75 429,92 443,107 459,119 474,139 481,157 493,165 503,167 507,179 496,189 478,198 450,199 433,192 421,177 406,187 391,207 377,207 373,182 359,163 347,147 343,125 348,100 359,81 369,62" fill="#8db6de" fill-opacity="0.2"/>
<polygon transform="translate(19 33)" points="377,46 391,53 406,65 418,75 429,92 443,107 459,119 474,139 481,157 493,165 503,167 507,179 496,189 478,198 450,199 433,192 421,177 406,187 391,207 377,207 373,182 359,163 347,147 343,125 348,100 359,81 369,62" fill="#8db6de" mask="url(#m8)"/>
<polygon transform="translate(31 21)" points="335,112 353,109 359,149 354,161 339,159" fill="#8db6de" fill-opacity="0.25"/>
<polygon transform="translate(31 21)" points="335,112 353,109 359,149 354,161 339,159" fill="#8db6de" mask="url(#m8)"/>
<polygon transform="translate(28 18)" points="368,62 397,79 420,107 442,130 467,157 472,177 457,182 437,167 412,147 390,132 377,102 370,82" fill="#8db6de" fill-opacity="0.25"/>
<polygon transform="translate(28 18)" points="368,62 397,79 420,107 442,130 467,157 472,177 457,182 437,167 412,147 390,132 377,102 370,82" fill="#8db6de" mask="url(#m8)"/>
<polygon transform="translate(38 4)" points="362,106 382,116 392,156 387,181 372,176 362,146" fill="#8db6de" fill-opacity="0.2"/>
<polygon transform="translate(38 4)" points="362,106 382,116 392,156 387,181 372,176 362,146" fill="#8db6de" mask="url(#m7)"/>
<polygon transform="translate(7 32)" points="443,158 473,168 490,183 483,196 458,193" fill="#8db6de" fill-opacity="0.2"/>
<polygon transform="translate(7 32)" points="443,158 473,168 490,183 483,196 458,193" fill="#8db6de" mask="url(#m7)"/>
<polygon transform="translate(26 10)" points="370,69 384,76 399,88 411,98 422,115 436,130 452,142 467,162 474,180 486,188 496,190 500,202 489,212 471,221 443,222 426,215 414,200 399,210 384,230 370,230 366,205 352,186 340,170 336,148 341,123 352,104 362,85" fill="#151515" mask="url(#m0)"/>
<polygon transform="translate(21 9)" points="518,100 527,100 530,165 539,197 513,197 518,165" fill="#3fa33f" fill-opacity="0.25"/>
<polygon transform="translate(21 9)" points="518,100 527,100 530,165 539,197 513,197 518,165" fill="#3fa33f" mask="url(#m8)"/>
<polygon transform="translate(31 26)" points="508,83 517,83 520,148 529,180 503,180 508,148" fill="#151515" mask="url(#m4)"/>
<polygon transform="translate(2 4)" points="538,69 547,69 545,105 539,105" fill="#151515" fill-opacity="0.6"/>
<polygon transform="translate(2 4)" points="538,69 547,69 545,105 539,105" fill="#151515" mask="url(#m10)"/>
<polygon transform="translate(35 36)" points="498,53 506,53 506,76 499,76" fill="#e60d16" fill-opacity="0.05"/>
<polygon transform="translate(35 36)" points="498,53 506,53 506,76 499,76" fill="#e60d16" mask="url(#m6)"/>
<polygon transform="translate(20 21)" points="500,184 525,171 540,174 547,179 555,204 560,224 561,241 555,269 550,299 545,334 538,368 531,382 515,387 497,391 492,414 480,433 460,433 446,442 441,414 432,391 412,373 408,345 413,299 425,277 440,261 450,244 462,229 480,204" fill="#3fa33f" fill-opacity="0.06"/>
<polygon transform="translate(20 21)" points="500,184 525,171 540,174 547,179 555,204 560,224 561,241 555,269 550,299 545,334 538,368 531,382 515,387 497,391 492,414 480,433 460,433 446,442 441,414 432,391 412,373 408,345 413,299 425,277 440,261 450,244 462,229 480,204" fill="#3fa33f" mask="url(#m6)"/>
<polygon transform="translate(22 38)" points="498,167 523,154 538,157 545,162 553,187 558,207 559,224 553,252 548,282 543,317 536,351 529,365 513,370 495,374 490,397 478,416 458,416 444,425 439,397 430,374 410,356 406,328 411,282 423,260 438,244 448,227 460,212 478,187" fill="#b57ae0" mask="url(#m5)"/>
<polygon transform="translate(31 37)" points="489,168 514,155 529,158 536,163 544,188 549,208 550,225 544,253 539,283 534,318 527,352 520,366 504,371 486,375 481,398 469,417 449,417 435,426 430,398 421,375 401,357 397,329 402,283 414,261 429,245 439,228 451,213 469,188" fill="#151515" mask="url(#m1)"/>
<polygon transform="translate(29 4)" points="453,258 491,246 531,248 545,286 537,356 523,394 496,396 469,381 445,341 441,296" fill="#3fa33f" fill-opacity="0.08"/>
<polygon transform="translate(29 4)" points="453,258 491,246 531,248 545,286 537,356 523,394 496,396 469,381 445,341 441,296" fill="#3fa33f" mask="url(#m8)"/>
<polygon transform="translate(5 17)" points="503,283 530,271 553,283 551,333 530,351 510,338" fill="#3fa33f" fill-opacity="0.05"/>
<polygon transform="translate(5 17)" points="503,283 530,271 553,283 551,333 530,351 510,338" fill="#3fa33f" mask="url(#m6)"/>
<polygon transform="translate(30 4)" points="530,346 542,336 538,396 522,399" fill="#2f7f2f" fill-opacity="0.1"/>
<polygon transform="translate(30 4)" points="530,346 542,336 538,396 522,399" fill="#2f7f2f" mask="url(#m8)"/>
<polygon transform="translate(3 19)" points="497,181 542,173 567,201 572,241 517,246 487,221" fill="#b57ae0" fill-opacity="0.05"/>
<polygon transform="translate(3 19)" points="497,181 542,173 567,201 572,241 517,246 487,221" fill="#b57ae0" mask="url(#m6)"/>
<polygon transform="translate(36 28)" points="404,352 444,362 464,426 430,435 416,384" fill="#b57ae0" fill-opacity="0.06"/>
<polygon transform="translate(36 28)" points="404,352 444,362 464,426 430,435 416,384" fill="#b57ae0" mask="url(#m6)"/>
<polygon transform="translate(18 24)" points="427,371 472,376 480,426 450,434" fill="#3fa33f" fill-opacity="0.05"/>
<polygon transform="translate(18 24)" points="427,371 472,376 480,426 450,434" fill="#3fa33f" mask="url(#m6)"/>
<polygon transform="translate(22 1)" points="406,319 428,289 448,299 438,379 413,394" fill="#b57ae0" mask="url(#m6)"/>
<polygon transform="translate(29 22)" points="441,236 449,240 433,270 426,268" fill="#b57ae0" fill-opacity="0.3"/>
<polygon transform="translate(29 22)" points="441,236 449,240 433,270 426,268" fill="#b57ae0" mask="url(#m9)"/>
<polygon transform="translate(10 39)" points="410,141 460,151 490,176 480,196 440,191 415,176" fill="#8db6de" mask="url(#m5)"/>
<polygon transform="translate(7 31)" points="440,245 439.5,247.5 437.9,249.7 435.5,251.5 432.4,252.6 429,253 425.6,252.6 422.5,251.5 420.1,249.7 418.5,247.5 418,245 418.5,242.5 420.1,240.3 422.5,238.5 425.6,237.4 429,237 432.4,237.4 435.5,238.5 437.9,240.3 439.5,242.5" fill="#3fa33f" fill-opacity="0.3"/>
<polygon transform="translate(7 31)" points="440,245 439.5,247.5 437.9,249.7 435.5,251.5 432.4,252.6 429,253 425.6,252.6 422.5,251.5 420.1,249.7 418.5,247.5 418,245 418.5,242.5 420.1,240.3 422.5,238.5 425.6,237.4 429,237 432.4,237.4 435.5,238.5 437.9,240.3 439.5,242.5" fill="#3fa33f" mask="url(#m9)"/>
<polygon transform="translate(3 13)" points="442,263 441.6,265.2 440.3,267.1 438.3,268.7 435.8,269.7 433,270 430.2,269.7 427.7,268.7 425.7,267.1 424.4,265.2 424,263 424.4,260.8 425.7,258.9 427.7,257.3 430.2,256.3 433,256 435.8,256.3 438.3,257.3 440.3,258.9 441.6,260.8" fill="#151515" mask="url(#m6)"/>
<polygon transform="translate(18 8)" points="378,339 377.2,343.6 374.8,347.8 371,351.1 366.3,353.3 361,354 355.7,353.3 351,351.1 347.2,347.8 344.8,343.6 344,339 344.8,334.4 347.2,330.2 351,326.9 355.7,324.7 361,324 366.3,324.7 371,326.9 374.8,330.2 377.2,334.4" fill="#151515" fill-opacity="0.15"/>
<polygon transform="translate(18 8)" points="378,339 377.2,343.6 374.8,347.8 371,351.1 366.3,353.3 361,354 355.7,353.3 351,351.1 347.2,347.8 344.8,343.6 344,339 344.8,334.4 347.2,330.2 351,326.9 355.7,324.7 361,324 366.3,324.7 371,326.9 374.8,330.2 377.2,334.4" fill="#151515" mask="url(#m8)"/>
<polygon transform="translate(15 25)" points="376,322 375.4,325.1 373.7,327.9 371.1,330.1 367.7,331.5 364,332 360.3,331.5 356.9,330.1 354.3,327.9 352.6,325.1 352,322 352.6,318.9 354.3,316.1 356.9,313.9 360.3,312.5 364,312 367.7,312.5 371.1,313.9 373.7,316.1 375.4,318.9" fill="#151515" fill-opacity="0.3"/>
<polygon transform="translate(15 25)" points="376,322 375.4,325.1 373.7,327.9 371.1,330.1 367.7,331.5 364,332 360.3,331.5 356.9,330.1 354.3,327.9 352.6,325.1 352,322 352.6,318.9 354.3,316.1 356.9,313.9 360.3,312.5 364,312 367.7,312.5 371.1,313.9 373.7,316.1 375.4,318.9" fill="#151515" mask="url(#m8)"/>
<polygon transform="translate(25 31)" points="345,331 353,331 352,364 354,377 343,379 345,359" fill="#151515" fill-opacity="0.08"/>
<polygon transform="translate(25 31)" points="345,331 353,331 352,364 354,377 343,379 345,359" fill="#151515" mask="url(#m7)"/>
<polygon transform="translate(5 10)" points="368,396 383,396 383,401 368,401" fill="#3fa33f" fill-opacity="0.3"/>
<polygon transform="translate(5 10)" points="368,396 383,396 383,401 368,401" fill="#3fa33f" mask="url(#m10)"/>
<polygon transform="translate(28 25)" points="539,368 553,378 558,410 563,456 563,486 553,484 544,475 533,473 531,433 535,399" fill="#b57ae0" fill-opacity="0.15"/>
<polygon transform="translate(28 25)" points="539,368 553,378 558,410 563,456 563,486 553,484 544,475 533,473 531,433 535,399" fill="#b57ae0" mask="url(#m7)"/>
<polygon transform="translate(35 17)" points="532,376 546,386 551,418 556,464 556,494 546,492 537,483 526,481 524,441 528,407" fill="#8db6de" fill-opacity="0.1"/>
<polygon transform="translate(35 17)" points="532,376 546,386 551,418 556,464 556,494 546,492 537,483 526,481 524,441 528,407" fill="#8db6de" mask="url(#m7)"/>
<polygon transform="translate(8 27)" points="559,366 573,376 578,408 583,454 583,484 573,482 564,473 553,471 551,431 555,397" fill="#151515" mask="url(#m2)"/>
<polygon transform="translate(35 17)" points="532,376 546,386 551,418 556,464 556,494 546,492 537,483 526,481 524,441 528,407" fill="#3fa33f" mask="url(#m4)"/>
<polygon transform="translate(26 22)" points="560,14 565,14 563,29 559,29" fill="#2a6a3a" fill-opacity="0.5"/>
<polygon transform="translate(26 22)" points="560,14 565,14 563,29 559,29" fill="#2a6a3a" mask="url(#m10)"/>
<polygon transform="translate(24 14)" points="369,58.4 384,65.9 400,78.8 412.9,89.5 424.7,107.6 439.6,123.7 456.8,136.5 472.8,157.9 480.3,177.2 493.1,185.8 503.8,187.9 508.1,200.7 496.3,211.4 477.1,221.1 447.1,222.1 428.9,214.6 416.1,198.6 400,209.3 384,230.7 369,230.7 364.7,203.9 349.8,183.6 336.9,166.5 332.6,142.9 338,116.2 349.8,95.9 360.5,75.5" fill="#8db6de" mask="url(#m3)"/>
<polygon transform="translate(9 5)" points="511.6,191.5 538.4,177.6 554.4,180.8 561.9,186.1 570.5,212.9 575.8,234.3 576.9,252.5 570.5,282.4 565.1,314.5 559.8,352 552.3,388.3 544.8,403.3 527.6,408.7 508.4,413 503,437.6 490.2,457.9 468.8,457.9 453.8,467.5 448.5,437.6 438.8,413 417.4,393.7 413.2,363.7 418.5,314.5 431.4,291 447.4,273.9 458.1,255.7 470.9,239.6 490.2,212.9" fill="#3fa33f" mask="url(#m2)"/>
<polygon transform="translate(11 9)" points="509.6,187.5 536.4,173.6 552.4,176.8 559.9,182.1 568.5,208.9 573.8,230.3 574.9,248.5 568.5,278.4 563.1,310.5 557.8,348 550.3,384.3 542.8,399.3 525.6,404.7 506.4,409 501,433.6 488.2,453.9 466.8,453.9 451.8,463.5 446.5,433.6 436.8,409 415.4,389.7 411.2,359.7 416.5,310.5 429.4,287 445.4,269.9 456.1,251.7 468.9,235.6 488.2,208.9" fill="#b57ae0" mask="url(#m1)"/>
<polygon transform="translate(14 14)" points="388.8,333 387.6,339.5 384.3,345.3 379,350 372.4,353 365,354 357.6,353 351,350 345.7,345.3 342.4,339.5 341.2,333 342.4,326.5 345.7,320.7 351,316 357.6,313 365,312 372.4,313 379,316 384.3,320.7 387.6,326.5" fill="#151515" mask="url(#m3)"/>
<polygon transform="translate(0 31)" points="520,379 560,369 565,439 530,449" fill="#3fa33f" mask="url(#m1)"/>
<polygon transform="translate(37 11)" points="483,399 523,389 528,459 493,469" fill="#151515" mask="url(#m0)"/>
</g>
<g stroke="#808080" stroke-width="1.6" fill="none">
<path d="M80 21V546.5H601"/>
<path d="M80 162.7h-3M80 314.3h-3M80 465.5h-3M215.4 546.5v3M363 546.5v3M511.5 546.5v3"/>
</g>
<rect x="100" y="144.5" width="246" height="382.5" fill="none" stroke="#c00000" stroke-width="2.3" stroke-dasharray="10.3 5.9"/>
<path d="M346.4 71.4V51.6H565.5V71.4M382.4 504V526.6H601.7V504" fill="none" stroke="#555" stroke-width="1.4" stroke-dasharray="4 2.8"/>
<text transform="translate(-2.5 44) scale(0.84 1)" font-size="86" font-weight="bold">a</text>
<text x="323.8" y="25.9" font-size="25" font-weight="normal" fill="#000" text-anchor="start" textLength="244.4" lengthAdjust="spacingAndGlyphs" >CD34+ CMP/GMP AML</text>
<text x="158.8" y="132" font-size="25" font-weight="normal" fill="#000" text-anchor="start" textLength="121.2" lengthAdjust="spacingAndGlyphs" >CD34- AML</text>
<text x="660.5" y="60.7" font-size="25" font-weight="normal" fill="#000" text-anchor="start" textLength="66" lengthAdjust="spacingAndGlyphs" >Donor</text>
<circle cx="671" cy="114.8" r="26.8" fill="#ec7f85"/>
<text x="711.5" y="108.8" font-size="25" font-weight="normal" fill="#000" text-anchor="start" textLength="171.5" lengthAdjust="spacingAndGlyphs" >KMT2A-MLLT10</text>
<text x="711.5" y="131.6" font-size="25" font-weight="normal" fill="#000" text-anchor="start" textLength="102" lengthAdjust="spacingAndGlyphs" >NRAS.PM</text>
<circle cx="671" cy="183.1" r="26.8" fill="#fdd2a5"/>
<text x="711.5" y="180.2" font-size="25" font-weight="normal" fill="#000" text-anchor="start" textLength="158" lengthAdjust="spacingAndGlyphs" >KMT2A-MLLT4</text>
<text x="711.5" y="203.5" font-size="25" font-weight="normal" fill="#000" text-anchor="start" textLength="92.5" lengthAdjust="spacingAndGlyphs" >FLT3.PM</text>
<circle cx="671" cy="255.1" r="26.8" fill="#7f7f7f"/>
<text x="713.3" y="264.7" font-size="25" font-weight="normal" fill="#000" text-anchor="start" >NBM</text>
<circle cx="671" cy="333.8" r="26.8" fill="#bdd5ee"/>
<text x="713.3" y="338.6" font-size="25" font-weight="normal" fill="#000" text-anchor="start" >NK</text>
<circle cx="671" cy="405.1" r="26.8" fill="#d9a8ee"/>
<text x="713.3" y="408.2" font-size="25" font-weight="normal" fill="#000" text-anchor="start" >Inv(16)</text>
<circle cx="671" cy="473.1" r="26.8" fill="#94cc8f"/>
<text x="713.3" y="477.5" font-size="25" font-weight="normal" fill="#000" text-anchor="start" >Inv(16)</text>
<g stroke="#f2f2f2" stroke-width="1">
<path d="M90.5 778.6H853.2"/>
<path d="M90.5 715.3H853.2"/>
<path d="M90.5 651.9H853.2"/>
</g><g stroke="#e8e8e8" stroke-width="1.4">
<path d="M90.5 810.3H853.2"/>
<path d="M90.5 747H853.2"/>
<path d="M90.5 683.6H853.2"/>
<path d="M90.5 620.3H853.2"/>
<path d="M153.9 594.5V823"/>
<path d="M259.8 594.5V823"/>
<path d="M365.7 594.5V823"/>
<path d="M471.6 594.5V823"/>
<path d="M577.5 594.5V823"/>
<path d="M683.4 594.5V823"/>
<path d="M789.3 594.5V823"/>
</g>
<circle cx="137.1" cy="805.6" r="4.1" fill="#f9b0ab"/>
<circle cx="143.7" cy="805.6" r="4.1" fill="#f9b0ab"/>
<circle cx="242.9" cy="779.1" r="4.1" fill="#f9b0ab"/>
<circle cx="249.6" cy="779.1" r="4.1" fill="#f9b0ab"/>
<circle cx="352.3" cy="779.6" r="4.1" fill="#f9b0ab"/>
<circle cx="352.3" cy="798.5" r="4.1" fill="#f9b0ab"/>
<circle cx="455.5" cy="792.4" r="4.1" fill="#f9b0ab"/>
<circle cx="462.1" cy="792.4" r="4.1" fill="#f9b0ab"/>
<circle cx="564.4" cy="796.8" r="4.1" fill="#f9b0ab"/>
<circle cx="564.4" cy="809.6" r="4.1" fill="#f9b0ab"/>
<circle cx="670.2" cy="678.6" r="4.1" fill="#f9b0ab"/>
<circle cx="670.2" cy="728.9" r="4.1" fill="#f9b0ab"/>
<circle cx="776.5" cy="608.1" r="4.1" fill="#f9b0ab"/>
<circle cx="776.5" cy="746.5" r="4.1" fill="#f9b0ab"/>
<circle cx="156.5" cy="805.6" r="4.1" fill="#7fdbdd"/>
<circle cx="163.1" cy="805.6" r="4.1" fill="#7fdbdd"/>
<circle cx="170.2" cy="805.6" r="4.1" fill="#7fdbdd"/>
<circle cx="176.8" cy="805.6" r="4.1" fill="#7fdbdd"/>
<circle cx="166.7" cy="779.1" r="4.1" fill="#7fdbdd"/>
<circle cx="266.3" cy="773" r="4.1" fill="#7fdbdd"/>
<circle cx="272.9" cy="773" r="4.1" fill="#7fdbdd"/>
<circle cx="279.5" cy="773" r="4.1" fill="#7fdbdd"/>
<circle cx="272.9" cy="784" r="4.1" fill="#7fdbdd"/>
<circle cx="272.9" cy="798.5" r="4.1" fill="#7fdbdd"/>
<circle cx="378.7" cy="721.4" r="4.1" fill="#7fdbdd"/>
<circle cx="375.2" cy="758.4" r="4.1" fill="#7fdbdd"/>
<circle cx="382.3" cy="758.4" r="4.1" fill="#7fdbdd"/>
<circle cx="375.2" cy="781.3" r="4.1" fill="#7fdbdd"/>
<circle cx="382.3" cy="781.3" r="4.1" fill="#7fdbdd"/>
<circle cx="485" cy="790.6" r="4.1" fill="#7fdbdd"/>
<circle cx="474.9" cy="803" r="4.1" fill="#7fdbdd"/>
<circle cx="481.5" cy="803" r="4.1" fill="#7fdbdd"/>
<circle cx="488.1" cy="803" r="4.1" fill="#7fdbdd"/>
<circle cx="494.7" cy="803" r="4.1" fill="#7fdbdd"/>
<circle cx="577.2" cy="806.9" r="4.1" fill="#7fdbdd"/>
<circle cx="584.2" cy="806.9" r="4.1" fill="#7fdbdd"/>
<circle cx="590.8" cy="806.9" r="4.1" fill="#7fdbdd"/>
<circle cx="597.4" cy="806.9" r="4.1" fill="#7fdbdd"/>
<circle cx="604.1" cy="806.9" r="4.1" fill="#7fdbdd"/>
<circle cx="693.6" cy="786.2" r="4.1" fill="#7fdbdd"/>
<circle cx="700.2" cy="786.2" r="4.1" fill="#7fdbdd"/>
<circle cx="690" cy="797.7" r="4.1" fill="#7fdbdd"/>
<circle cx="696.6" cy="797.7" r="4.1" fill="#7fdbdd"/>
<circle cx="703.7" cy="797.7" r="4.1" fill="#7fdbdd"/>
<circle cx="799" cy="789.7" r="4.1" fill="#7fdbdd"/>
<circle cx="806" cy="789.7" r="4.1" fill="#7fdbdd"/>
<circle cx="799" cy="795.9" r="4.1" fill="#7fdbdd"/>
<circle cx="806" cy="795.9" r="4.1" fill="#7fdbdd"/>
<circle cx="802.5" cy="808.7" r="4.1" fill="#7fdbdd"/>
<rect x="90.5" y="594.5" width="762.7" height="228.5" fill="none" stroke="#555" stroke-width="1.4"/>
<g stroke="#333" stroke-width="1.3">
<path d="M87.5 810.3H90.5"/>
<path d="M87.5 747H90.5"/>
<path d="M87.5 683.6H90.5"/>
<path d="M87.5 620.3H90.5"/>
<path d="M153.9 823v3.5"/>
<path d="M259.8 823v3.5"/>
<path d="M365.7 823v3.5"/>
<path d="M471.6 823v3.5"/>
<path d="M577.5 823v3.5"/>
<path d="M683.4 823v3.5"/>
<path d="M789.3 823v3.5"/>
</g>
<text x="84.5" y="819.2" font-size="25.5" font-weight="normal" fill="#4d4d4d" text-anchor="end" >0</text>
<text x="84.5" y="755.9" font-size="25.5" font-weight="normal" fill="#4d4d4d" text-anchor="end" >20</text>
<text x="84.5" y="692.5" font-size="25.5" font-weight="normal" fill="#4d4d4d" text-anchor="end" >40</text>
<text x="84.5" y="629.2" font-size="25.5" font-weight="normal" fill="#4d4d4d" text-anchor="end" >60</text>
<g stroke="#f2f2f2" stroke-width="1">
<path d="M90.5 1034.7H853.2"/>
<path d="M90.5 966.4H853.2"/>
<path d="M90.5 898H853.2"/>
</g><g stroke="#e8e8e8" stroke-width="1.4">
<path d="M90.5 1068.9H853.2"/>
<path d="M90.5 1000.5H853.2"/>
<path d="M90.5 932.2H853.2"/>
<path d="M90.5 863.8H853.2"/>
<path d="M153.9 851.1V1079.6"/>
<path d="M259.8 851.1V1079.6"/>
<path d="M365.7 851.1V1079.6"/>
<path d="M471.6 851.1V1079.6"/>
<path d="M577.5 851.1V1079.6"/>
<path d="M683.4 851.1V1079.6"/>
<path d="M789.3 851.1V1079.6"/>
</g>
<circle cx="141.1" cy="902.9" r="4.1" fill="#f9b0ab"/>
<circle cx="141.1" cy="936.8" r="4.1" fill="#f9b0ab"/>
<circle cx="141.1" cy="947" r="4.1" fill="#f9b0ab"/>
<circle cx="246.9" cy="921" r="4.1" fill="#f9b0ab"/>
<circle cx="243.4" cy="953.2" r="4.1" fill="#f9b0ab"/>
<circle cx="250.4" cy="953.2" r="4.1" fill="#f9b0ab"/>
<circle cx="352.7" cy="1004.7" r="4.1" fill="#f9b0ab"/>
<circle cx="352.7" cy="1043.1" r="4.1" fill="#f9b0ab"/>
<circle cx="352.7" cy="1052.8" r="4.1" fill="#f9b0ab"/>
<circle cx="458.6" cy="1006.1" r="4.1" fill="#f9b0ab"/>
<circle cx="455" cy="1041.3" r="4.1" fill="#f9b0ab"/>
<circle cx="462" cy="1041.3" r="4.1" fill="#f9b0ab"/>
<circle cx="564.4" cy="864.1" r="4.1" fill="#f9b0ab"/>
<circle cx="564.4" cy="1026.3" r="4.1" fill="#f9b0ab"/>
<circle cx="564.4" cy="1054.6" r="4.1" fill="#f9b0ab"/>
<circle cx="670.2" cy="881.7" r="4.1" fill="#f9b0ab"/>
<circle cx="670.2" cy="994.6" r="4.1" fill="#f9b0ab"/>
<circle cx="670.2" cy="1025" r="4.1" fill="#f9b0ab"/>
<circle cx="776.5" cy="865.9" r="4.1" fill="#f9b0ab"/>
<circle cx="776.5" cy="906" r="4.1" fill="#f9b0ab"/>
<circle cx="776.5" cy="996.4" r="4.1" fill="#f9b0ab"/>
<circle cx="167.5" cy="1025" r="4.1" fill="#7fdbdd"/>
<circle cx="164" cy="1059.4" r="4.1" fill="#7fdbdd"/>
<circle cx="171" cy="1059.4" r="4.1" fill="#7fdbdd"/>
<circle cx="164" cy="1065.6" r="4.1" fill="#7fdbdd"/>
<circle cx="171" cy="1065.6" r="4.1" fill="#7fdbdd"/>
<circle cx="273.4" cy="953.6" r="4.1" fill="#7fdbdd"/>
<circle cx="273.4" cy="964.2" r="4.1" fill="#7fdbdd"/>
<circle cx="273.4" cy="984" r="4.1" fill="#7fdbdd"/>
<circle cx="273.4" cy="999.9" r="4.1" fill="#7fdbdd"/>
<circle cx="273.4" cy="1035.6" r="4.1" fill="#7fdbdd"/>
<circle cx="379.2" cy="912.6" r="4.1" fill="#7fdbdd"/>
<circle cx="375.7" cy="1001.2" r="4.1" fill="#7fdbdd"/>
<circle cx="382.7" cy="1001.2" r="4.1" fill="#7fdbdd"/>
<circle cx="379.2" cy="1024.1" r="4.1" fill="#7fdbdd"/>
<circle cx="379.2" cy="1035.2" r="4.1" fill="#7fdbdd"/>
<circle cx="485" cy="1032.1" r="4.1" fill="#7fdbdd"/>
<circle cx="481.9" cy="1053.2" r="4.1" fill="#7fdbdd"/>
<circle cx="488.5" cy="1053.2" r="4.1" fill="#7fdbdd"/>
<circle cx="481.9" cy="1060.3" r="4.1" fill="#7fdbdd"/>
<circle cx="488.5" cy="1060.3" r="4.1" fill="#7fdbdd"/>
<circle cx="581.1" cy="1066" r="4.1" fill="#7fdbdd"/>
<circle cx="587.7" cy="1066" r="4.1" fill="#7fdbdd"/>
<circle cx="594.8" cy="1066" r="4.1" fill="#7fdbdd"/>
<circle cx="601.4" cy="1066" r="4.1" fill="#7fdbdd"/>
<circle cx="591.3" cy="1061.6" r="4.1" fill="#7fdbdd"/>
<circle cx="693.6" cy="1039.1" r="4.1" fill="#7fdbdd"/>
<circle cx="700.2" cy="1039.1" r="4.1" fill="#7fdbdd"/>
<circle cx="690" cy="1055" r="4.1" fill="#7fdbdd"/>
<circle cx="696.6" cy="1055" r="4.1" fill="#7fdbdd"/>
<circle cx="703.7" cy="1055" r="4.1" fill="#7fdbdd"/>
<circle cx="802.5" cy="961.5" r="4.1" fill="#7fdbdd"/>
<circle cx="802.5" cy="980.5" r="4.1" fill="#7fdbdd"/>
<circle cx="802.5" cy="995.5" r="4.1" fill="#7fdbdd"/>
<circle cx="802.5" cy="1013.1" r="4.1" fill="#7fdbdd"/>
<circle cx="802.5" cy="1059.4" r="4.1" fill="#7fdbdd"/>
<rect x="90.5" y="851.1" width="762.7" height="228.5" fill="none" stroke="#555" stroke-width="1.4"/>
<g stroke="#333" stroke-width="1.3">
<path d="M87.5 1068.9H90.5"/>
<path d="M87.5 1000.5H90.5"/>
<path d="M87.5 932.2H90.5"/>
<path d="M87.5 863.8H90.5"/>
<path d="M153.9 1079.6v3.5"/>
<path d="M259.8 1079.6v3.5"/>
<path d="M365.7 1079.6v3.5"/>
<path d="M471.6 1079.6v3.5"/>
<path d="M577.5 1079.6v3.5"/>
<path d="M683.4 1079.6v3.5"/>
<path d="M789.3 1079.6v3.5"/>
</g>
<text x="84.5" y="1077.8" font-size="25.5" font-weight="normal" fill="#4d4d4d" text-anchor="end" >0</text>
<text x="84.5" y="1009.4" font-size="25.5" font-weight="normal" fill="#4d4d4d" text-anchor="end" >20</text>
<text x="84.5" y="941.1" font-size="25.5" font-weight="normal" fill="#4d4d4d" text-anchor="end" >40</text>
<text x="84.5" y="872.7" font-size="25.5" font-weight="normal" fill="#4d4d4d" text-anchor="end" >60</text>
<text transform="translate(188.9 1086) rotate(-45)" font-size="26.3" fill="#4d4d4d" text-anchor="end">pSTAT1+</text>
<text transform="translate(294.8 1086) rotate(-45)" font-size="26.3" fill="#4d4d4d" text-anchor="end">pSTAT3+</text>
<text transform="translate(400.7 1086) rotate(-45)" font-size="26.3" fill="#4d4d4d" text-anchor="end">pSTAT5+</text>
<text transform="translate(506.6 1086) rotate(-45)" font-size="26.3" fill="#4d4d4d" text-anchor="end">pERK+</text>
<text transform="translate(612.5 1086) rotate(-45)" font-size="26.3" fill="#4d4d4d" text-anchor="end">pS6+</text>
<text transform="translate(718.4 1086) rotate(-45)" font-size="26.3" fill="#4d4d4d" text-anchor="end">pNFKB+</text>
<text transform="translate(824.3 1086) rotate(-45)" font-size="26.3" fill="#4d4d4d" text-anchor="end">IkBa+</text>
<circle cx="99.3" cy="583.2" r="8.5" fill="#f9b0ab"/><circle cx="275.6" cy="582.3" r="8.5" fill="#7fdbdd"/>
<text x="110.8" y="591.3" font-size="25.5" font-weight="normal" fill="#000" text-anchor="start" >CD34- AML</text>
<text x="284.4" y="591.3" font-size="25.5" font-weight="normal" fill="#000" text-anchor="start" >CD34- NBM</text>
<circle cx="100.1" cy="839.4" r="8.5" fill="#f9b0ab"/><circle cx="275.6" cy="838.8" r="8.5" fill="#7fdbdd"/>
<text x="111.4" y="847.7" font-size="25.5" font-weight="normal" fill="#000" text-anchor="start" >CD34+ AML</text>
<text x="284.4" y="847.7" font-size="25.5" font-weight="normal" fill="#000" text-anchor="start" >CD34+ NBM</text>
<text transform="translate(48.8 708) rotate(-90)" font-size="25" text-anchor="middle">% parent</text>
<text transform="translate(48.8 964) rotate(-90)" font-size="25" text-anchor="middle">% parent</text>
<text transform="translate(-5.5 639.5) scale(0.92 1)" font-size="86" font-weight="bold">b</text>
<rect x="1002.9" y="102.2" width="65" height="24.9" fill="#FFCCCC" stroke="#111" stroke-width="1.6"/>
<rect x="1067.9" y="102.2" width="65" height="24.9" fill="#FFECEC" stroke="#111" stroke-width="1.6"/>
<rect x="1133" y="102.2" width="65" height="24.9" fill="#FF8E8E" stroke="#111" stroke-width="1.6"/>
<rect x="1205.5" y="102.2" width="64.5" height="24.9" fill="#FFF6F6" stroke="#111" stroke-width="1.6"/>
<rect x="1270" y="102.2" width="64.5" height="24.9" fill="#FF0A0A" stroke="#111" stroke-width="1.6"/>
<rect x="1341.8" y="102.2" width="64.7" height="24.9" fill="#FFD9D9" stroke="#111" stroke-width="1.6"/>
<rect x="1406.5" y="102.2" width="64.7" height="24.9" fill="#B5DAFF" stroke="#111" stroke-width="1.6"/>
<rect x="1002.9" y="134" width="65" height="24.7" fill="#6BB5FF" stroke="#111" stroke-width="1.6"/>
<rect x="1067.9" y="134" width="65" height="24.7" fill="#96C8FF" stroke="#111" stroke-width="1.6"/>
<rect x="1133" y="134" width="65" height="24.7" fill="#B3D8FF" stroke="#111" stroke-width="1.6"/>
<rect x="1205.5" y="134" width="64.5" height="24.7" fill="#CCE5FF" stroke="#111" stroke-width="1.6"/>
<rect x="1270" y="134" width="64.5" height="24.7" fill="#F8FAFF" stroke="#111" stroke-width="1.6"/>
<rect x="1341.8" y="134" width="64.7" height="24.7" fill="#F8FAFF" stroke="#111" stroke-width="1.6"/>
<rect x="1406.5" y="134" width="64.7" height="24.7" fill="#FFECEC" stroke="#111" stroke-width="1.6"/>
<rect x="1530" y="102.2" width="58.6" height="24.9" fill="#FFE0E0" stroke="#111" stroke-width="1.6"/>
<rect x="1588.6" y="102.2" width="58.6" height="24.9" fill="#FFEEEE" stroke="#111" stroke-width="1.6"/>
<rect x="1647.2" y="102.2" width="58.6" height="24.9" fill="#FFC2C2" stroke="#111" stroke-width="1.6"/>
<rect x="1712.7" y="102.2" width="58.2" height="24.9" fill="#FFE0E0" stroke="#111" stroke-width="1.6"/>
<rect x="1771" y="102.2" width="58.2" height="24.9" fill="#FFA3A3" stroke="#111" stroke-width="1.6"/>
<rect x="1836.3" y="102.2" width="58.4" height="24.9" fill="#FFD9D9" stroke="#111" stroke-width="1.6"/>
<rect x="1894.7" y="102.2" width="58.4" height="24.9" fill="#FFF8F8" stroke="#111" stroke-width="1.6"/>
<rect x="1530" y="134" width="58.6" height="24.7" fill="#A6D1FF" stroke="#111" stroke-width="1.6"/>
<rect x="1588.6" y="134" width="58.6" height="24.7" fill="#CCE5FF" stroke="#111" stroke-width="1.6"/>
<rect x="1647.2" y="134" width="58.6" height="24.7" fill="#CCE5FF" stroke="#111" stroke-width="1.6"/>
<rect x="1712.7" y="134" width="58.2" height="24.7" fill="#DDEEFF" stroke="#111" stroke-width="1.6"/>
<rect x="1771" y="134" width="58.2" height="24.7" fill="#EFF6FF" stroke="#111" stroke-width="1.6"/>
<rect x="1836.3" y="134" width="58.4" height="24.7" fill="#E8F3FF" stroke="#111" stroke-width="1.6"/>
<rect x="1894.7" y="134" width="58.4" height="24.7" fill="#F8FAFF" stroke="#111" stroke-width="1.6"/>
<rect x="1002.9" y="390.7" width="65" height="24.3" fill="#CCE5FF" stroke="#111" stroke-width="1.6"/>
<rect x="1067.9" y="390.7" width="65" height="24.3" fill="#E8F3FF" stroke="#111" stroke-width="1.6"/>
<rect x="1133" y="390.7" width="65" height="24.3" fill="#FFAEAE" stroke="#111" stroke-width="1.6"/>
<rect x="1205.5" y="390.7" width="64.5" height="24.3" fill="#E8F3FF" stroke="#111" stroke-width="1.6"/>
<rect x="1270" y="390.7" width="64.5" height="24.3" fill="#FFB9B9" stroke="#111" stroke-width="1.6"/>
<rect x="1341.8" y="390.7" width="64.7" height="24.3" fill="#F8FAFF" stroke="#111" stroke-width="1.6"/>
<rect x="1406.5" y="390.7" width="64.7" height="24.3" fill="#EFF6FF" stroke="#111" stroke-width="1.6"/>
<rect x="1002.9" y="422.5" width="65" height="24.2" fill="#82C0FF" stroke="#111" stroke-width="1.6"/>
<rect x="1067.9" y="422.5" width="65" height="24.2" fill="#8CC6FF" stroke="#111" stroke-width="1.6"/>
<rect x="1133" y="422.5" width="65" height="24.2" fill="#78BBFF" stroke="#111" stroke-width="1.6"/>
<rect x="1205.5" y="422.5" width="64.5" height="24.2" fill="#8CC6FF" stroke="#111" stroke-width="1.6"/>
<rect x="1270" y="422.5" width="64.5" height="24.2" fill="#DDEEFF" stroke="#111" stroke-width="1.6"/>
<rect x="1341.8" y="422.5" width="64.7" height="24.2" fill="#EFF6FF" stroke="#111" stroke-width="1.6"/>
<rect x="1406.5" y="422.5" width="64.7" height="24.2" fill="#F8FAFF" stroke="#111" stroke-width="1.6"/>
<rect x="1530" y="390.7" width="58.6" height="24.3" fill="#FFD9D9" stroke="#111" stroke-width="1.6"/>
<rect x="1588.6" y="390.7" width="58.6" height="24.3" fill="#FFC2C2" stroke="#111" stroke-width="1.6"/>
<rect x="1647.2" y="390.7" width="58.6" height="24.3" fill="#FF8585" stroke="#111" stroke-width="1.6"/>
<rect x="1712.7" y="390.7" width="58.2" height="24.3" fill="#FFA3A3" stroke="#111" stroke-width="1.6"/>
<rect x="1771" y="390.7" width="58.2" height="24.3" fill="#FF7070" stroke="#111" stroke-width="1.6"/>
<rect x="1836.3" y="390.7" width="58.4" height="24.3" fill="#FFEEEE" stroke="#111" stroke-width="1.6"/>
<rect x="1894.7" y="390.7" width="58.4" height="24.3" fill="#FFF8F8" stroke="#111" stroke-width="1.6"/>
<rect x="1530" y="422.5" width="58.6" height="24.2" fill="#B3D8FF" stroke="#111" stroke-width="1.6"/>
<rect x="1588.6" y="422.5" width="58.6" height="24.2" fill="#C4E1FF" stroke="#111" stroke-width="1.6"/>
<rect x="1647.2" y="422.5" width="58.6" height="24.2" fill="#A0CEFF" stroke="#111" stroke-width="1.6"/>
<rect x="1712.7" y="422.5" width="58.2" height="24.2" fill="#B3D8FF" stroke="#111" stroke-width="1.6"/>
<rect x="1771" y="422.5" width="58.2" height="24.2" fill="#E8F3FF" stroke="#111" stroke-width="1.6"/>
<rect x="1836.3" y="422.5" width="58.4" height="24.2" fill="#F8FAFF" stroke="#111" stroke-width="1.6"/>
<rect x="1894.7" y="422.5" width="58.4" height="24.2" fill="#FFF6F6" stroke="#111" stroke-width="1.6"/>
<text transform="translate(1047.9 175.7) rotate(-45)" font-size="24.7" text-anchor="end">pSTAT1+</text>
<text transform="translate(1113 175.7) rotate(-45)" font-size="24.7" text-anchor="end">pSTAT3+</text>
<text transform="translate(1178 175.7) rotate(-45)" font-size="24.7" text-anchor="end">pSTAT5+</text>
<text transform="translate(1250.2 175.7) rotate(-45)" font-size="24.7" text-anchor="end">pERK+</text>
<text transform="translate(1314.7 175.7) rotate(-45)" font-size="24.7" text-anchor="end">pS6+</text>
<text transform="translate(1386.7 175.7) rotate(-45)" font-size="24.7" text-anchor="end">pNFKB+</text>
<text transform="translate(1451.4 175.7) rotate(-45)" font-size="24.7" text-anchor="end">IkBa+</text>
<text transform="translate(1571.8 175.7) rotate(-45)" font-size="24.7" text-anchor="end">pSTAT1+</text>
<text transform="translate(1630.4 175.7) rotate(-45)" font-size="24.7" text-anchor="end">pSTAT3+</text>
<text transform="translate(1689 175.7) rotate(-45)" font-size="24.7" text-anchor="end">pSTAT5+</text>
<text transform="translate(1754.3 175.7) rotate(-45)" font-size="24.7" text-anchor="end">pERK+</text>
<text transform="translate(1812.6 175.7) rotate(-45)" font-size="24.7" text-anchor="end">pS6+</text>
<text transform="translate(1878 175.7) rotate(-45)" font-size="24.7" text-anchor="end">pNFKB+</text>
<text transform="translate(1936.4 175.7) rotate(-45)" font-size="24.7" text-anchor="end">IkBa+</text>
<text transform="translate(1047.9 463.6) rotate(-45)" font-size="24.7" text-anchor="end">pSTAT1+</text>
<text transform="translate(1113 463.6) rotate(-45)" font-size="24.7" text-anchor="end">pSTAT3+</text>
<text transform="translate(1178 463.6) rotate(-45)" font-size="24.7" text-anchor="end">pSTAT5+</text>
<text transform="translate(1250.2 463.6) rotate(-45)" font-size="24.7" text-anchor="end">pERK+</text>
<text transform="translate(1314.7 463.6) rotate(-45)" font-size="24.7" text-anchor="end">pS6+</text>
<text transform="translate(1386.7 463.6) rotate(-45)" font-size="24.7" text-anchor="end">pNFKB+</text>
<text transform="translate(1451.4 463.6) rotate(-45)" font-size="24.7" text-anchor="end">IkBa+</text>
<text transform="translate(1571.8 463.6) rotate(-45)" font-size="24.7" text-anchor="end">pSTAT1+</text>
<text transform="translate(1630.4 463.6) rotate(-45)" font-size="24.7" text-anchor="end">pSTAT3+</text>
<text transform="translate(1689 463.6) rotate(-45)" font-size="24.7" text-anchor="end">pSTAT5+</text>
<text transform="translate(1754.3 463.6) rotate(-45)" font-size="24.7" text-anchor="end">pERK+</text>
<text transform="translate(1812.6 463.6) rotate(-45)" font-size="24.7" text-anchor="end">pS6+</text>
<text transform="translate(1878 463.6) rotate(-45)" font-size="24.7" text-anchor="end">pNFKB+</text>
<text transform="translate(1936.4 463.6) rotate(-45)" font-size="24.7" text-anchor="end">IkBa+</text>
<text x="997.5" y="134.2" font-size="25.5" font-weight="normal" fill="#000" text-anchor="end" >NBM</text>
<text x="993" y="427" font-size="25.3" font-weight="normal" fill="#000" text-anchor="end" >AML</text>
<text x="1460" y="93.5" font-size="25.3" font-weight="normal" fill="#000" text-anchor="start" >Ruxo</text>
<text x="1936.5" y="93.5" font-size="25.3" font-weight="normal" fill="#000" text-anchor="start" >Ruxo</text>
<text x="1460" y="383.5" font-size="25.3" font-weight="normal" fill="#000" text-anchor="start" >Ruxo</text>
<text x="1936.5" y="383.5" font-size="25.3" font-weight="normal" fill="#000" text-anchor="start" >Ruxo</text>
<text x="1477.5" y="123.5" font-size="32" font-weight="bold" fill="#000" text-anchor="start" >–</text>
<text x="1477.5" y="156.5" font-size="32" font-weight="bold" fill="#000" text-anchor="start" >+</text>
<text x="1959" y="123.5" font-size="32" font-weight="bold" fill="#000" text-anchor="start" >–</text>
<text x="1959" y="156.5" font-size="32" font-weight="bold" fill="#000" text-anchor="start" >+</text>
<text x="1477" y="411.7" font-size="32" font-weight="bold" fill="#000" text-anchor="start" >–</text>
<text x="1477" y="444.2" font-size="32" font-weight="bold" fill="#000" text-anchor="start" >+</text>
<text x="1959" y="411.7" font-size="32" font-weight="bold" fill="#000" text-anchor="start" >–</text>
<text x="1959" y="444.2" font-size="32" font-weight="bold" fill="#000" text-anchor="start" >+</text>
<text x="1170" y="75.2" font-size="34" font-weight="normal" fill="#000" text-anchor="start" >(i)</text>
<text x="1206" y="74.6" font-size="26" font-weight="normal" fill="#000" text-anchor="start" >CD34+</text>
<text x="1665.5" y="74.7" font-size="34" font-weight="normal" fill="#000" text-anchor="start" >(ii)</text>
<text x="1715" y="72.6" font-size="26" font-weight="normal" fill="#000" text-anchor="start" >CD34-</text>
<text x="1152.8" y="361" font-size="34" font-weight="normal" fill="#000" text-anchor="start" >(iii)</text>
<text x="1204.5" y="361.9" font-size="26" font-weight="normal" fill="#000" text-anchor="start" >CD34+</text>
<text x="1657.8" y="360.7" font-size="34" font-weight="normal" fill="#000" text-anchor="start" >(iv)</text>
<text x="1714" y="360.6" font-size="26" font-weight="normal" fill="#000" text-anchor="start" >CD34-</text>
<defs><linearGradient id="cb" x1="0" x2="1" y1="0" y2="0"><stop offset="0" stop-color="#1e88ff"/><stop offset="0.5" stop-color="#ffffff"/><stop offset="1" stop-color="#ff0000"/></linearGradient></defs>
<rect x="1439.3" y="305.5" width="140.6" height="16" fill="url(#cb)"/>
<text x="1510.6" y="296.8" font-size="22" font-weight="normal" fill="#000" text-anchor="middle" >log2(fold change)</text>
<text x="1436" y="320.7" font-size="22" font-weight="normal" fill="#000" text-anchor="end" >−2</text>
<text x="1583" y="320.7" font-size="22" font-weight="normal" fill="#000" text-anchor="start" >+2</text>
<text transform="translate(890.5 47) scale(0.8 1)" font-size="84" font-weight="bold">c</text>
<g stroke="#ececec" stroke-width="1">
<path d="M1018.3 613.6V853.2"/>
<path d="M1075.4 613.6V853.2"/>
<path d="M1132.5 613.6V853.2"/>
<path d="M1189.6 613.6V853.2"/>
<path d="M1246.7 613.6V853.2"/>
<path d="M1303.8 613.6V853.2"/>
<path d="M1360.9 613.6V853.2"/>
<path d="M1418 613.6V853.2"/>
<path d="M996.5 673.7H1462.5"/>
<path d="M996.5 712.8H1462.5"/>
<path d="M996.5 751.2H1462.5"/>
<path d="M996.5 790.3H1462.5"/>
<path d="M996.5 829.1H1462.5"/>
</g>
<path d="M1378.4 613.6V853.2" stroke="#f08a8a" stroke-width="1.2" stroke-dasharray="3.5 3"/>
<path d="M1049.3 624.4V645.3M1063.1 624.4V645.3M1125.6 624.4V645.3M1143.1 624.4V645.3M1152.5 624.4V645.3M1160 624.4V645.3M1193.6 624.4V645.3M1219.4 624.4V645.3M1255.2 624.4V645.3M1262.5 624.4V645.3M1313.9 624.4V645.3M1322.3 624.4V645.3M1336.4 624.4V645.3M1338.8 624.4V645.3M1341.8 624.4V645.3M1374.9 624.4V645.3M1380.3 624.4V645.3M1386.1 624.4V645.3M1392.3 624.4V645.3M1409.4 624.4V645.3M1430.2 624.4V645.3M1436.8 624.4V645.3M1438.2 624.4V645.3M1439.4 624.4V645.3M1440.6 624.4V645.3" stroke="#111" stroke-width="1.3" stroke-opacity="0.6"/>
<path d="M1054.7 624.4V645.3M1091.4 624.4V645.3M1139.5 624.4V645.3M1145.5 624.4V645.3M1157.5 624.4V645.3M1188.2 624.4V645.3M1206.6 624.4V645.3M1229 624.4V645.3M1255.9 624.4V645.3M1272.3 624.4V645.3M1314.8 624.4V645.3M1330.4 624.4V645.3M1337.6 624.4V645.3M1339.7 624.4V645.3M1343.3 624.4V645.3M1379.1 624.4V645.3M1380.9 624.4V645.3M1389.7 624.4V645.3M1393.5 624.4V645.3M1419.4 624.4V645.3M1431.4 624.4V645.3M1437.4 624.4V645.3M1438.6 624.4V645.3M1439.8 624.4V645.3M1441 624.4V645.3" stroke="#111" stroke-width="1.3" stroke-opacity="0.8"/>
<path d="M1061.6 624.4V645.3M1107.6 624.4V645.3M1140.1 624.4V645.3M1149.1 624.4V645.3M1158.7 624.4V645.3M1193 624.4V645.3M1216.4 624.4V645.3M1244.4 624.4V645.3M1261.5 624.4V645.3M1291.1 624.4V645.3M1316.8 624.4V645.3M1331 624.4V645.3M1338.2 624.4V645.3M1340.6 624.4V645.3M1358.4 624.4V645.3M1379.7 624.4V645.3M1381.7 624.4V645.3M1391.1 624.4V645.3M1403.7 624.4V645.3M1429 624.4V645.3M1433.2 624.4V645.3M1437.8 624.4V645.3M1439 624.4V645.3M1440.2 624.4V645.3M1441.4 624.4V645.3" stroke="#111" stroke-width="1.3" stroke-opacity="1"/>
<path d="M994.5 634.6H1462.5" stroke="#1a1a1a" stroke-width="1.5"/>
<polyline points="1018.3,634.6 1048.3,657.2 1049.5,653 1054,658 1055,653.5 1061,659.5 1063,653 1090.4,673.7 1091.5,670.5 1107.6,683 1108.5,680 1125.9,693.2 1140,702.3 1145,701.5 1159.5,708.9 1192.6,732.3 1254.2,775.9 1312.8,816.5 1316,816 1330.9,824 1337,820 1342.9,821.9 1357.9,831.5 1374.4,842.9 1379,839 1381,840 1386,836 1390,837 1394,831.5 1404.5,836.9 1410.5,825.5 1418,831.5 1421,822.5 1429.5,827 1431.5,804.4 1434.6,789.4 1437.6,780.4 1438.5,756.4 1439.7,714.3 1440.6,666.2 1441.5,642.1 1441.5,634.6" fill="none" stroke="#1ee81e" stroke-width="1.8" stroke-linejoin="round"/>
<rect x="996.5" y="613.6" width="466" height="239.6" fill="none" stroke="#a0a0a0" stroke-width="1.4"/>
<g stroke="#ececec" stroke-width="1">
<path d="M1491.8 612.7V853"/>
<path d="M1542 612.7V853"/>
<path d="M1592.2 612.7V853"/>
<path d="M1642.4 612.7V853"/>
<path d="M1692.6 612.7V853"/>
<path d="M1742.8 612.7V853"/>
<path d="M1793 612.7V853"/>
<path d="M1843.2 612.7V853"/>
<path d="M1893.4 612.7V853"/>
<path d="M1470.6 677.7H1937.6"/>
<path d="M1470.6 710.2H1937.6"/>
<path d="M1470.6 742.8H1937.6"/>
<path d="M1470.6 775.4H1937.6"/>
<path d="M1470.6 807.9H1937.6"/>
<path d="M1470.6 839.7H1937.6"/>
</g>
<path d="M1881.3 612.7V853" stroke="#f08a8a" stroke-width="1.2" stroke-dasharray="3.5 3"/>
<path d="M1492.6 634.3V655.6M1530.1 634.3V655.6M1534.6 634.3V655.6M1542.7 634.3V655.6M1582.7 634.3V655.6M1624.1 634.3V655.6M1638.4 634.3V655.6M1680.4 634.3V655.6M1703 634.3V655.6M1728.8 634.3V655.6M1783.1 634.3V655.6M1803.2 634.3V655.6M1818.2 634.3V655.6M1839.5 634.3V655.6M1853.3 634.3V655.6M1862.1 634.3V655.6M1868.3 634.3V655.6M1885.4 634.3V655.6M1890.4 634.3V655.6M1896.4 634.3V655.6M1901.4 634.3V655.6M1906.6 634.3V655.6M1911.7 634.3V655.6M1915.9 634.3V655.6" stroke="#111" stroke-width="1.3" stroke-opacity="0.6"/>
<path d="M1512.6 634.3V655.6M1531.4 634.3V655.6M1536.4 634.3V655.6M1546.4 634.3V655.6M1613.3 634.3V655.6M1625.3 634.3V655.6M1675.4 634.3V655.6M1683.7 634.3V655.6M1705.5 634.3V655.6M1772.4 634.3V655.6M1793.9 634.3V655.6M1808.2 634.3V655.6M1828.7 634.3V655.6M1848.3 634.3V655.6M1855.8 634.3V655.6M1863.3 634.3V655.6M1870.1 634.3V655.6M1887.1 634.3V655.6M1892.1 634.3V655.6M1897.9 634.3V655.6M1903.4 634.3V655.6M1908.4 634.3V655.6M1913.4 634.3V655.6" stroke="#111" stroke-width="1.3" stroke-opacity="0.8"/>
<path d="M1518.4 634.3V655.6M1532.6 634.3V655.6M1540.2 634.3V655.6M1557.2 634.3V655.6M1616.6 634.3V655.6M1630.3 634.3V655.6M1677.4 634.3V655.6M1700.5 634.3V655.6M1708 634.3V655.6M1777.6 634.3V655.6M1798.2 634.3V655.6M1813.2 634.3V655.6M1833.2 634.3V655.6M1850.8 634.3V655.6M1860.8 634.3V655.6M1865.8 634.3V655.6M1883.3 634.3V655.6M1888.9 634.3V655.6M1894.6 634.3V655.6M1899.6 634.3V655.6M1905.4 634.3V655.6M1910.2 634.3V655.6M1914.7 634.3V655.6" stroke="#111" stroke-width="1.3" stroke-opacity="1"/>
<path d="M1468.6 645.1H1937.6" stroke="#1a1a1a" stroke-width="1.5"/>
<polyline points="1492.6,645.1 1492.6,632.6 1494.6,623.8 1512.6,637.6 1513.1,633.1 1518.9,637.1 1519.4,633.3 1530.1,642.6 1535.2,637.6 1540,640 1542,637 1546.4,641.3 1547.7,638.8 1557.7,645.1 1582.7,662.6 1612.8,683.9 1624.1,688.9 1640.4,698.9 1675.4,726.5 1773.1,797.9 1793.2,809.2 1830.7,830.5 1848.3,838 1856,838.5 1860.8,840.5 1865,836 1868.3,835.5 1882.1,841.7 1885.9,839.2 1888,832 1889,834 1891,823 1892.5,825 1894,812 1895.5,814 1897,800 1898.5,802 1900,788 1901.5,790 1903,775 1904.5,777 1906,762 1907.5,764 1909,748 1910.5,744 1911.5,733 1913.4,730.3 1913.8,700 1914.7,675.2 1915.9,645.1" fill="none" stroke="#1ee81e" stroke-width="1.8" stroke-linejoin="round"/>
<rect x="1470.6" y="612.7" width="467" height="240.3" fill="none" stroke="#a0a0a0" stroke-width="1.4"/>
<g stroke="#ececec" stroke-width="1">
<path d="M1017.7 858.9V1099.5"/>
<path d="M1067.8 858.9V1099.5"/>
<path d="M1117.9 858.9V1099.5"/>
<path d="M1168 858.9V1099.5"/>
<path d="M1218.1 858.9V1099.5"/>
<path d="M1268.2 858.9V1099.5"/>
<path d="M1318.3 858.9V1099.5"/>
<path d="M1368.4 858.9V1099.5"/>
<path d="M1418.5 858.9V1099.5"/>
<path d="M996.8 925.7H1462.3"/>
<path d="M996.8 962H1462.3"/>
<path d="M996.8 997.5H1462.3"/>
<path d="M996.8 1033.3H1462.3"/>
<path d="M996.8 1069.6H1462.3"/>
</g>
<path d="M1371.7 858.9V1099.5" stroke="#f08a8a" stroke-width="1.2" stroke-dasharray="3.5 3"/>
<path d="M1017.4 879.1V901.8M1020.1 879.1V901.8M1026.5 879.1V901.8M1030.1 879.1V901.8M1038 879.1V901.8M1043.3 879.1V901.8M1046.3 879.1V901.8M1048.1 879.1V901.8M1051.1 879.1V901.8M1060.7 879.1V901.8M1075.1 879.1V901.8M1089 879.1V901.8M1111.2 879.1V901.8M1113.6 879.1V901.8M1125.6 879.1V901.8M1137.1 879.1V901.8M1164.1 879.1V901.8M1172.5 879.1V901.8M1176.1 879.1V901.8M1180.4 879.1V901.8M1194.2 879.1V901.8M1211.6 879.1V901.8M1217 879.1V901.8M1228.4 879.1V901.8M1236.3 879.1V901.8M1239.9 879.1V901.8M1237.2 879.1V901.8M1241.3 879.1V901.8M1253.4 879.1V901.8M1272.3 879.1V901.8M1294.9 879.1V901.8M1304.1 879.1V901.8M1307 879.1V901.8M1310.6 879.1V901.8M1319.6 879.1V901.8M1340.6 879.1V901.8M1355 879.1V901.8M1358.7 879.1V901.8M1371.9 879.1V901.8M1375.5 879.1V901.8M1379.1 879.1V901.8M1390.5 879.1V901.8M1394.1 879.1V901.8M1403.7 879.1V901.8M1407.7 879.1V901.8M1411.6 879.1V901.8M1419.4 879.1V901.8M1421.2 879.1V901.8M1423 879.1V901.8M1424.8 879.1V901.8M1426.6 879.1V901.8M1428.4 879.1V901.8M1430.2 879.1V901.8M1432 879.1V901.8M1433.8 879.1V901.8M1435.6 879.1V901.8M1437.4 879.1V901.8M1439.2 879.1V901.8M1441 879.1V901.8" stroke="#111" stroke-width="1.3" stroke-opacity="0.6"/>
<path d="M1018.3 879.1V901.8M1022.2 879.1V901.8M1027.2 879.1V901.8M1033.7 879.1V901.8M1038.7 879.1V901.8M1044.2 879.1V901.8M1046.9 879.1V901.8M1048.7 879.1V901.8M1058.3 879.1V901.8M1070.9 879.1V901.8M1076.3 879.1V901.8M1096.2 879.1V901.8M1112.1 879.1V901.8M1116.6 879.1V901.8M1132.9 879.1V901.8M1147.6 879.1V901.8M1170.1 879.1V901.8M1173.7 879.1V901.8M1176.7 879.1V901.8M1187.6 879.1V901.8M1202 879.1V901.8M1214.6 879.1V901.8M1222.4 879.1V901.8M1230.9 879.1V901.8M1237.5 879.1V901.8M1232.4 879.1V901.8M1239.6 879.1V901.8M1242 879.1V901.8M1254 879.1V901.8M1281.1 879.1V901.8M1302.1 879.1V901.8M1305 879.1V901.8M1307.9 879.1V901.8M1313 879.1V901.8M1326.8 879.1V901.8M1343.6 879.1V901.8M1356.2 879.1V901.8M1362.9 879.1V901.8M1373.1 879.1V901.8M1376.7 879.1V901.8M1382.1 879.1V901.8M1391.7 879.1V901.8M1395.9 879.1V901.8M1404.9 879.1V901.8M1409.2 879.1V901.8M1412.8 879.1V901.8M1420 879.1V901.8M1421.8 879.1V901.8M1423.6 879.1V901.8M1425.4 879.1V901.8M1427.2 879.1V901.8M1429 879.1V901.8M1430.8 879.1V901.8M1432.6 879.1V901.8M1434.4 879.1V901.8M1436.2 879.1V901.8M1438 879.1V901.8M1439.8 879.1V901.8" stroke="#111" stroke-width="1.3" stroke-opacity="0.8"/>
<path d="M1019.2 879.1V901.8M1025.9 879.1V901.8M1027.9 879.1V901.8M1037.3 879.1V901.8M1039.4 879.1V901.8M1045.1 879.1V901.8M1047.5 879.1V901.8M1049.3 879.1V901.8M1059.5 879.1V901.8M1073.3 879.1V901.8M1084.8 879.1V901.8M1098 879.1V901.8M1113 879.1V901.8M1123.2 879.1V901.8M1135.3 879.1V901.8M1148.5 879.1V901.8M1171.3 879.1V901.8M1174.9 879.1V901.8M1179.2 879.1V901.8M1192.1 879.1V901.8M1204.4 879.1V901.8M1215.8 879.1V901.8M1226 879.1V901.8M1232.7 879.1V901.8M1238.7 879.1V901.8M1236.6 879.1V901.8M1240.5 879.1V901.8M1250.4 879.1V901.8M1257.4 879.1V901.8M1287.7 879.1V901.8M1303.1 879.1V901.8M1306 879.1V901.8M1308.9 879.1V901.8M1315.4 879.1V901.8M1329.2 879.1V901.8M1353.8 879.1V901.8M1357.4 879.1V901.8M1367.7 879.1V901.8M1374.3 879.1V901.8M1377.9 879.1V901.8M1386.3 879.1V901.8M1392.9 879.1V901.8M1398.3 879.1V901.8M1406.1 879.1V901.8M1410.4 879.1V901.8M1414.6 879.1V901.8M1420.6 879.1V901.8M1422.4 879.1V901.8M1424.2 879.1V901.8M1426 879.1V901.8M1427.8 879.1V901.8M1429.6 879.1V901.8M1431.4 879.1V901.8M1433.2 879.1V901.8M1435 879.1V901.8M1436.8 879.1V901.8M1438.6 879.1V901.8M1440.4 879.1V901.8" stroke="#111" stroke-width="1.3" stroke-opacity="1"/>
<path d="M994.8 890.3H1462.3" stroke="#1a1a1a" stroke-width="1.5"/>
<polyline points="1017.5,890.1 1017.5,884 1019.2,881.5 1019.2,879.5 1019.5,880 1022.2,878.3 1022.2,876.3 1022.5,877 1025.9,877 1025.9,875 1026,876 1027.2,875.8 1027.2,873.8 1028,874 1030.1,875 1030.1,873 1033,874 1033.7,875.3 1033.7,873.3 1037,876 1037.3,876.5 1037.3,874.5 1038.7,874 1038.7,872 1039.6,871.5 1043,874 1043.3,874.8 1043.3,872.8 1045.1,873.4 1045.1,871.4 1046.3,872.5 1046.3,870.5 1047,871 1047.5,871.7 1047.5,869.7 1048.7,870.9 1048.7,868.9 1050,869 1051.1,870.3 1051.1,868.3 1052,869.5 1058.1,875 1058.3,876 1058.3,874 1059.5,875.8 1059.5,873.8 1060.7,875.6 1060.7,873.6 1061.1,874.5 1070.1,882 1070.9,883.2 1070.9,881.2 1073.3,883.8 1073.3,881.8 1075.1,884.2 1075.1,882.2 1076.2,883.5 1076.3,884.6 1076.3,882.6 1084.8,889.7 1084.8,887.7 1085.2,889 1089,892.4 1089,890.4 1096.2,897 1096.2,895 1096.2,896 1098,898.4 1098,896.4 1110.2,907.1 1111.2,908.6 1111.2,906.6 1113,909.6 1113,907.6 1116.6,911.6 1116.6,909.6 1123.2,914.1 1123.2,915.1 1123.2,913.1 1125.6,916.6 1125.6,914.6 1132.9,920.9 1132.9,918.9 1135.3,922.3 1135.3,920.3 1137.1,923.4 1137.1,921.4 1138.3,923.1 1147.6,931.1 1147.6,929.1 1150.3,932.1 1162.3,943.2 1164.1,945.3 1164.1,943.3 1170.1,949.1 1170.1,947.1 1170.3,948.2 1171.3,949.8 1171.3,947.8 1172.5,950.5 1172.5,948.5 1173.7,951.2 1173.7,949.2 1174.9,952 1174.9,950 1176.1,952.7 1176.1,950.7 1179.2,954.5 1179.2,952.5 1180.4,955.2 1180.4,953.2 1180.4,954.2 1186.4,959.2 1187.6,961.1 1187.6,959.1 1192.1,964.7 1192.1,962.7 1194.2,966.4 1194.2,964.4 1202,972.6 1202,970.6 1204.4,974.5 1204.4,972.5 1211.6,980.2 1211.6,978.2 1214.6,982.6 1214.6,980.6 1215.8,983.5 1215.8,981.5 1217,984.5 1217,982.5 1222.4,988.8 1222.4,986.8 1226,991.6 1226,989.6 1228.4,993.5 1228.4,991.5 1230.9,995.4 1230.9,993.4 1232.4,996.7 1232.4,994.7 1236.3,999.7 1236.3,997.7 1237.5,1000.7 1237.5,998.7 1238.7,1001.6 1238.7,999.6 1239.9,1002.6 1239.9,1000.6 1241.3,1003.7 1241.3,1001.7 1248.7,1008.6 1250.4,1011 1250.4,1009 1253.4,1013.4 1253.4,1011.4 1257.4,1016.6 1257.4,1014.6 1272.3,1028.7 1272.3,1026.7 1281.1,1035.8 1281.1,1033.8 1287.7,1041.1 1287.7,1039.1 1294.9,1047 1294.9,1045 1302.1,1052.8 1302.1,1050.8 1302.5,1052.1 1304.1,1053.8 1304.1,1051.8 1306,1054.7 1306,1052.7 1307.9,1055.5 1307.9,1053.5 1310.6,1056.7 1310.6,1054.7 1313,1057.8 1313,1055.8 1315.4,1058.9 1315.4,1056.9 1315.6,1058 1319.6,1062.1 1319.6,1060.1 1326.8,1067.7 1326.8,1065.7 1329.2,1069.6 1329.2,1067.6 1340.6,1078.5 1340.6,1076.5 1341.7,1078.3 1343.6,1080.4 1343.6,1078.4 1353.8,1086.1 1353.8,1084.1 1354.8,1085.6 1355,1086.5 1355,1084.5 1356.2,1085.9 1356.2,1083.9 1357.4,1085.3 1357.4,1083.3 1358.7,1084.7 1358.7,1082.7 1360,1083 1362.9,1085.5 1362.9,1083.5 1367.7,1087.9 1367.7,1085.9 1370.8,1088.5 1371.9,1088.6 1371.9,1086.6 1373.1,1087.6 1373.1,1085.6 1374.3,1086.6 1374.3,1084.6 1375,1085 1375.5,1086.1 1375.5,1084.1 1376.7,1086.3 1376.7,1084.3 1377.9,1086.6 1377.9,1084.6 1379.1,1086.8 1379.1,1084.8 1382.1,1087.4 1382.1,1085.4 1385,1087 1386.3,1088.3 1386.3,1086.3 1390.5,1089.4 1390.5,1087.4 1391.1,1088.5 1391.7,1089.1 1391.7,1087.1 1392.9,1088.4 1392.9,1086.4 1394.1,1087.6 1394.1,1085.6 1395.9,1086.5 1395.9,1084.5 1398.3,1085 1398.3,1083 1400,1083 1403.7,1082 1403.7,1080 1404.9,1081.3 1404.9,1079.3 1406.1,1080.6 1406.1,1078.6 1407.7,1079.8 1407.7,1077.8 1408.6,1078.3 1409.2,1077.5 1409.2,1075.5 1410.4,1073.6 1410.4,1071.6 1411.6,1069.8 1411.6,1067.8 1412.8,1065.9 1412.8,1063.9 1414.6,1060.1 1414.6,1058.1 1415.8,1055.1 1419.4,1047.5 1419.4,1045.5 1420.6,1044.7 1420.6,1042.7 1421.8,1041.8 1421.8,1039.8 1423,1038.9 1423,1036.9 1423.1,1037.6 1424.2,1032.5 1424.2,1030.5 1425.4,1025.6 1425.4,1023.6 1426.6,1018.8 1426.6,1016.8 1427.8,1012 1427.8,1010 1429,1005.2 1429,1003.2 1430.2,998.3 1430.2,996.3 1431.4,991.5 1431.4,989.5 1431.8,988.2 1432.6,982.4 1432.6,980.4 1433.8,972.2 1433.8,970.2 1435,961.9 1435,959.9 1436.2,951.7 1436.2,949.7 1437.4,941.4 1437.4,939.4 1437.6,938.8 1438.6,927.7 1438.6,925.7 1439.8,913.2 1439.8,911.2 1440.5,903.9 1441.1,890.9" fill="none" stroke="#1ee81e" stroke-width="1.8" stroke-linejoin="round"/>
<rect x="996.8" y="858.9" width="465.5" height="240.6" fill="none" stroke="#a0a0a0" stroke-width="1.4"/>
<g stroke="#ececec" stroke-width="1">
<path d="M1491.3 856.8V1099.2"/>
<path d="M1548.5 856.8V1099.2"/>
<path d="M1605.7 856.8V1099.2"/>
<path d="M1662.9 856.8V1099.2"/>
<path d="M1720.1 856.8V1099.2"/>
<path d="M1777.3 856.8V1099.2"/>
<path d="M1834.5 856.8V1099.2"/>
<path d="M1891.7 856.8V1099.2"/>
<path d="M1470.3 910H1936.6"/>
<path d="M1470.3 943.7H1936.6"/>
<path d="M1470.3 977.3H1936.6"/>
<path d="M1470.3 1010.1H1936.6"/>
<path d="M1470.3 1043.8H1936.6"/>
<path d="M1470.3 1076.8H1936.6"/>
</g>
<path d="M1865.4 856.8V1099.2" stroke="#f08a8a" stroke-width="1.2" stroke-dasharray="3.5 3"/>
<path d="M1553.5 867.2V888.2M1574 867.2V888.2M1619.9 867.2V888.2M1664.2 867.2V888.2M1700.7 867.2V888.2M1734.3 867.2V888.2M1756.7 867.2V888.2M1838 867.2V888.2M1873.9 867.2V888.2M1899.6 867.2V888.2M1914.5 867.2V888.2" stroke="#111" stroke-width="1.3" stroke-opacity="0.6"/>
<path d="M1569.5 867.2V888.2M1578.2 867.2V888.2M1632.8 867.2V888.2M1669.8 867.2V888.2M1702.6 867.2V888.2M1748.3 867.2V888.2M1765.1 867.2V888.2M1866 867.2V888.2M1880.6 867.2V888.2M1903.8 867.2V888.2" stroke="#111" stroke-width="1.3" stroke-opacity="0.8"/>
<path d="M1571.7 867.2V888.2M1616.6 867.2V888.2M1653 867.2V888.2M1679.6 867.2V888.2M1728.7 867.2V888.2M1752.5 867.2V888.2M1835.2 867.2V888.2M1871.6 867.2V888.2M1894.6 867.2V888.2M1909.5 867.2V888.2" stroke="#111" stroke-width="1.3" stroke-opacity="1"/>
<path d="M1468.3 877.3H1936.6" stroke="#1a1a1a" stroke-width="1.5"/>
<polyline points="1491.3,877.3 1553.5,922.9 1553.5,913.6 1569.5,925.4 1569.5,918.9 1571.7,920.6 1571.7,918.3 1574,920 1574,917.1 1578.2,920.2 1578.2,913.8 1616.6,941.9 1616.6,936.3 1619.9,938.8 1619.9,937.4 1632.8,946.8 1632.8,944.6 1653,959.4 1653,957.2 1664.2,965.4 1664.2,964 1669.8,968.1 1669.8,966.7 1679.6,973.9 1679.6,972.2 1700.7,987.6 1700.7,986.2 1702.6,987.6 1702.6,986.2 1728.7,1005.3 1728.7,1003.9 1734.3,1008.1 1734.3,1006.7 1748.3,1016.9 1748.3,1015.5 1752.5,1018.6 1752.5,1017.5 1756.7,1020.6 1756.7,1019.4 1765.1,1025.6 1765.1,1024.2 1835.2,1075.6 1835.2,1067.7 1838,1069.8 1838,1063.6 1866,1084.2 1866,1073 1871.6,1077.1 1871.6,1063.6 1873.9,1065.3 1873.9,1052.6 1880.6,1057.6 1880.6,1042.2 1894.6,1052.4 1894.6,1031.4 1899.6,1035.1 1899.6,1009.9 1903.8,1013 1903.8,983.5 1909.5,987.6 1909.5,947 1914.5,950.7 1914.5,877.3" fill="none" stroke="#1ee81e" stroke-width="1.8" stroke-linejoin="round"/>
<rect x="1470.3" y="856.8" width="466.3" height="242.4" fill="none" stroke="#a0a0a0" stroke-width="1.4"/>
<g stroke="#8c8c8c" stroke-width="1.2">
<path d="M996.5 712.8h-3M996.5 790.3h-3M1470.6 709.5h-3M1470.6 774.6h-3M1470.6 839.7h-3M996.8 962h-3M996.8 1033.3h-3M1470.3 943.7h-3M1470.3 1010.1h-3M1470.3 1076.8h-3"/>
<path d="M1018.3 853.2v3M1132.5 853.2v3M1246.7 853.2v3M1360.9 853.2v3M1491.8 853v3M1592 853v3M1692.5 853v3M1792.7 853v3M1017.7 1099.5v3M1118 1099.5v3M1218.2 1099.5v3M1318.5 1099.5v3M1418.7 1099.5v3M1491.3 1099.2v3M1606.2 1099.2v3M1720.3 1099.2v3M1834.6 1099.2v3"/>
</g>
<path d="M1176 686.6H1392.5M1377.5 678.4L1392.5 686.6L1377.5 694.8" fill="none" stroke="#000" stroke-width="2.4"/>
<path d="M1655.4 686.9H1872.8M1857.8 678.7L1872.8 686.9L1857.8 695.1" fill="none" stroke="#000" stroke-width="2.4"/>
<path d="M1177.5 935.9H1394M1379 927.7L1394 935.9L1379 944.1" fill="none" stroke="#000" stroke-width="2.4"/>
<path d="M1657.2 935.9H1874.4M1859.4 927.7L1874.4 935.9L1859.4 944.1" fill="none" stroke="#000" stroke-width="2.4"/>
<text x="1234.2" y="717.9" font-size="29" font-weight="normal" fill="#000" text-anchor="start" textLength="118" lengthAdjust="spacingAndGlyphs" >Higher in</text>
<text x="1235.2" y="747.3" font-size="29" font-weight="normal" fill="#000" text-anchor="start" textLength="127.7" lengthAdjust="spacingAndGlyphs" >untreated</text>
<text x="1721" y="717.7" font-size="29" font-weight="normal" fill="#000" text-anchor="start" textLength="117.2" lengthAdjust="spacingAndGlyphs" >Higher in</text>
<text x="1722" y="747.8" font-size="29" font-weight="normal" fill="#000" text-anchor="start" textLength="126.8" lengthAdjust="spacingAndGlyphs" >untreated</text>
<text x="1238.6" y="967" font-size="29" font-weight="normal" fill="#000" text-anchor="start" textLength="117.6" lengthAdjust="spacingAndGlyphs" >Higher in</text>
<text x="1239.6" y="996.3" font-size="29" font-weight="normal" fill="#000" text-anchor="start" textLength="127.3" lengthAdjust="spacingAndGlyphs" >untreated</text>
<text x="1730.3" y="967.5" font-size="29" font-weight="normal" fill="#000" text-anchor="start" textLength="117.9" lengthAdjust="spacingAndGlyphs" >Higher in</text>
<text x="1731.3" y="995.5" font-size="29" font-weight="normal" fill="#000" text-anchor="start" textLength="127.6" lengthAdjust="spacingAndGlyphs" >untreated</text>
<text x="1015.4" y="828.5" font-size="25.5" font-weight="normal" fill="#000" text-anchor="start" textLength="200.5" lengthAdjust="spacingAndGlyphs" >IFNα/β signaling</text>
<text x="1485" y="828" font-size="25.5" font-weight="normal" fill="#000" text-anchor="start" textLength="310.5" lengthAdjust="spacingAndGlyphs" >IL-6 JAK/STAT3 signaling</text>
<text x="1015.5" y="1074" font-size="25.5" font-weight="normal" fill="#000" text-anchor="start" textLength="187.5" lengthAdjust="spacingAndGlyphs" >TNFα signaling</text>
<text x="1486.5" y="1009" font-size="25.5" font-weight="normal" fill="#000" text-anchor="start" textLength="88.5" lengthAdjust="spacingAndGlyphs" >MyD88</text>
<text x="1486.5" y="1041.8" font-size="25.5" font-weight="normal" fill="#000" text-anchor="start" textLength="152.7" lengthAdjust="spacingAndGlyphs" >independent</text>
<text x="1486.5" y="1074" font-size="25.5" font-weight="normal" fill="#000" text-anchor="start" textLength="168.6" lengthAdjust="spacingAndGlyphs" >TLR signaling</text>
<text transform="translate(972.3 843.1) rotate(-90)" font-size="30" font-weight="bold" text-anchor="middle" textLength="232" lengthAdjust="spacingAndGlyphs">Enrichment Score</text>
<text x="1211" y="1134.1" font-size="28" font-weight="bold" fill="#000" text-anchor="start" textLength="143.5" lengthAdjust="spacingAndGlyphs" >Gene rank:</text>
<text x="1371" y="1134.1" font-size="28" font-weight="bold" fill="#000" text-anchor="start" >1</text>
<path d="M1395.5 1125.9H1533.9M1519 1117.7L1533.9 1125.9L1519 1134.1" fill="none" stroke="#000" stroke-width="2.4"/>
<text x="1540.8" y="1135.7" font-size="28" font-weight="bold" fill="#000" text-anchor="start" textLength="95" lengthAdjust="spacingAndGlyphs" >11, 110</text>
<text x="889" y="639.5" font-size="86" font-weight="bold" fill="#000" text-anchor="start" >d</text>
</svg></body></html>
